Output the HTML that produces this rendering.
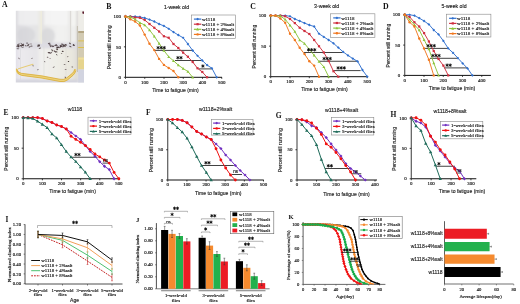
<!DOCTYPE html>
<html><head><meta charset="utf-8"><style>
html,body{margin:0;padding:0;background:#fff;width:520px;height:304px;overflow:hidden;}
svg{display:block;filter:blur(0.3px);}
text{white-space:pre;opacity:0.999;}
</style></head><body>
<svg width="520" height="304" viewBox="0 0 520 304">
<rect width="520" height="304" fill="#fff"/>
<text x="2.10" y="7.20" font-family='"Liberation Serif", serif' font-size="7.8" text-anchor="start" fill="#111" font-weight="bold">A</text>
<defs><filter id="bl" x="-10%" y="-10%" width="120%" height="120%"><feGaussianBlur stdDeviation="1.1"/></filter><filter id="bl2" x="-20%" y="-20%" width="140%" height="140%"><feGaussianBlur stdDeviation="0.45"/></filter><clipPath id="phc"><rect x="15.8" y="10.8" width="68.2" height="71.6"/></clipPath><linearGradient id="p1" x1="0" x2="1" y1="0" y2="0"><stop offset="0" stop-color="#e2e2e4"/><stop offset="0.15" stop-color="#dcdbdf"/><stop offset="0.55" stop-color="#e6e6e8"/><stop offset="0.85" stop-color="#e4e4e5"/><stop offset="0.96" stop-color="#f0efe6"/><stop offset="1" stop-color="#e8e6dc"/></linearGradient><linearGradient id="p2" x1="0" x2="1" y1="0" y2="0"><stop offset="0" stop-color="#e2e1e1"/><stop offset="0.3" stop-color="#ececec"/><stop offset="0.6" stop-color="#f2f2f1"/><stop offset="0.9" stop-color="#f0f0ef"/><stop offset="1" stop-color="#e4e3e1"/></linearGradient><linearGradient id="p3" x1="0" x2="0" y1="0" y2="1"><stop offset="0" stop-color="#efeeea"/><stop offset="0.26" stop-color="#eae8e0"/><stop offset="0.3" stop-color="#c8bd98"/><stop offset="0.34" stop-color="#d8d0b6"/><stop offset="0.49" stop-color="#dcd4ba"/><stop offset="0.515" stop-color="#dcbc50"/><stop offset="0.54" stop-color="#dcd4ba"/><stop offset="0.6" stop-color="#e4d8a8"/><stop offset="0.63" stop-color="#eedc90"/><stop offset="0.77" stop-color="#dcc474"/><stop offset="0.8" stop-color="#d6d6e2"/><stop offset="1" stop-color="#d2d2de"/></linearGradient><linearGradient id="p4" x1="0" x2="1" y1="0" y2="0"><stop offset="0" stop-color="#dedde6"/><stop offset="0.1" stop-color="#eceaee"/><stop offset="0.35" stop-color="#e6e5e8"/><stop offset="0.42" stop-color="#f1f0ee"/><stop offset="0.7" stop-color="#eeede6"/><stop offset="0.9" stop-color="#e9e7de"/><stop offset="1" stop-color="#dddbd6"/></linearGradient></defs>
<g clip-path="url(#phc)">
<g filter="url(#bl)">
<rect x="14.00" y="9.00" width="72.00" height="76.00" fill="#e4e3e4" stroke="none" stroke-width="0.6"/>
<rect x="14.00" y="9.00" width="27.50" height="35.50" fill="url(#p1)" stroke="none" stroke-width="0.6"/>
<rect x="41.50" y="9.00" width="29.00" height="35.50" fill="url(#p2)" stroke="none" stroke-width="0.6"/>
<rect x="70.50" y="9.00" width="8.00" height="35.50" fill="#efefed" stroke="none" stroke-width="0.6"/>
<rect x="18.00" y="9.00" width="20.00" height="16.00" fill="#f0f0f1" stroke="none" stroke-width="0.6" opacity="0.8"/>
<rect x="44.00" y="9.00" width="24.00" height="16.00" fill="#f5f5f4" stroke="none" stroke-width="0.6" opacity="0.85"/>
<rect x="71.00" y="9.00" width="6.00" height="17.00" fill="#f5f5f3" stroke="none" stroke-width="0.6" opacity="0.8"/>
<ellipse cx="26" cy="35" rx="9" ry="8" fill="#d4d4d8" opacity="0.7"/>
<ellipse cx="48" cy="36" rx="7" ry="8" fill="#d6d6d8" opacity="0.75"/>
<rect x="76.50" y="9.00" width="1.60" height="35.50" fill="#d4d2ce" stroke="none" stroke-width="0.6"/>
<rect x="14.00" y="43.00" width="64.00" height="37.00" fill="url(#p4)" stroke="none" stroke-width="0.6"/>
<rect x="14.00" y="42.50" width="64.00" height="6.00" fill="#dddce2" stroke="none" stroke-width="0.6"/>
<rect x="14.00" y="79.50" width="64.00" height="5.00" fill="#d4d4de" stroke="none" stroke-width="0.6"/>
</g>
<g filter="url(#bl2)">
<rect x="78.20" y="9.00" width="8.00" height="23.00" fill="#eeede8" stroke="none" stroke-width="0.6"/>
<rect x="78.20" y="31.00" width="8.00" height="2.20" fill="#b4a684" stroke="none" stroke-width="0.6"/>
<rect x="78.20" y="33.00" width="8.00" height="25.00" fill="#d3cbb3" stroke="none" stroke-width="0.6"/>
<rect x="78.20" y="40.40" width="8.00" height="1.00" fill="#dcc050" stroke="none" stroke-width="0.6"/>
<rect x="78.20" y="47.00" width="8.00" height="1.00" fill="#dcc050" stroke="none" stroke-width="0.6"/>
<rect x="78.20" y="57.60" width="8.00" height="12.00" fill="#e6d48e" stroke="none" stroke-width="0.6"/>
<rect x="78.20" y="57.60" width="8.00" height="2.00" fill="#eede9e" stroke="none" stroke-width="0.6"/>
<rect x="78.20" y="69.40" width="8.00" height="15.00" fill="#d2d4e0" stroke="none" stroke-width="0.6"/>
</g>
<g filter="url(#bl2)">
<line x1="41.20" y1="10.80" x2="41.20" y2="44.00" stroke="#f3f0dc" stroke-width="0.9"/>
<line x1="70.60" y1="10.80" x2="70.60" y2="44.00" stroke="#d2d0cc" stroke-width="0.7"/>
<line x1="77.40" y1="26.00" x2="77.40" y2="72.00" stroke="#bdb8a8" stroke-width="0.8"/>
<line x1="20.50" y1="46.00" x2="20.50" y2="80.00" stroke="#d8d8dc" stroke-width="0.6"/>
<line x1="44.00" y1="46.00" x2="44.00" y2="80.00" stroke="#dcdcd8" stroke-width="0.6"/>
<line x1="66.00" y1="46.00" x2="66.00" y2="80.00" stroke="#dddcd4" stroke-width="0.6"/>
</g>
<g filter="url(#bl2)" fill="#3c2c2e">
<ellipse cx="27.1" cy="43.1" rx="1.2" ry="0.6" transform="rotate(9 27.1 43.1)" opacity="0.62"/>
<ellipse cx="28.5" cy="44.7" rx="1.3" ry="0.6" transform="rotate(-41 28.5 44.7)" opacity="0.67"/>
<ellipse cx="18.6" cy="46.5" rx="0.9" ry="0.7" transform="rotate(46 18.6 46.5)" opacity="0.81"/>
<ellipse cx="31.0" cy="43.9" rx="1.0" ry="0.5" transform="rotate(3 31.0 43.9)" opacity="0.57"/>
<ellipse cx="21.0" cy="45.8" rx="1.2" ry="0.6" transform="rotate(34 21.0 45.8)" opacity="0.76"/>
<ellipse cx="31.5" cy="46.1" rx="1.2" ry="0.6" transform="rotate(-4 31.5 46.1)" opacity="0.66"/>
<ellipse cx="39.9" cy="48.3" rx="1.3" ry="0.5" transform="rotate(-27 39.9 48.3)" opacity="0.67"/>
<ellipse cx="18.2" cy="45.7" rx="1.4" ry="0.6" transform="rotate(35 18.2 45.7)" opacity="0.70"/>
<ellipse cx="39.0" cy="45.8" rx="1.0" ry="0.7" transform="rotate(-3 39.0 45.8)" opacity="0.94"/>
<ellipse cx="25.8" cy="45.8" rx="0.9" ry="0.6" transform="rotate(28 25.8 45.8)" opacity="0.66"/>
<ellipse cx="18.5" cy="44.1" rx="1.4" ry="0.5" transform="rotate(-25 18.5 44.1)" opacity="0.59"/>
<ellipse cx="17.9" cy="48.7" rx="1.4" ry="0.5" transform="rotate(6 17.9 48.7)" opacity="0.73"/>
<ellipse cx="21.0" cy="45.7" rx="1.3" ry="0.5" transform="rotate(-8 21.0 45.7)" opacity="0.64"/>
<ellipse cx="22.8" cy="45.1" rx="1.5" ry="0.7" transform="rotate(-20 22.8 45.1)" opacity="0.90"/>
<ellipse cx="21.5" cy="43.8" rx="1.3" ry="0.5" transform="rotate(49 21.5 43.8)" opacity="0.64"/>
<ellipse cx="22.6" cy="47.4" rx="1.4" ry="0.5" transform="rotate(-20 22.6 47.4)" opacity="0.58"/>
<ellipse cx="18.6" cy="45.0" rx="1.3" ry="0.5" transform="rotate(-5 18.6 45.0)" opacity="0.93"/>
<ellipse cx="27.9" cy="45.3" rx="1.2" ry="0.7" transform="rotate(-32 27.9 45.3)" opacity="0.61"/>
<ellipse cx="37.8" cy="46.2" rx="1.0" ry="0.6" transform="rotate(44 37.8 46.2)" opacity="0.63"/>
<ellipse cx="38.8" cy="44.9" rx="1.4" ry="0.6" transform="rotate(-8 38.8 44.9)" opacity="0.59"/>
<ellipse cx="17.4" cy="46.7" rx="1.3" ry="0.5" transform="rotate(32 17.4 46.7)" opacity="0.79"/>
<ellipse cx="23.4" cy="45.6" rx="1.0" ry="0.6" transform="rotate(-43 23.4 45.6)" opacity="0.64"/>
<ellipse cx="29.6" cy="46.9" rx="1.1" ry="0.7" transform="rotate(-30 29.6 46.9)" opacity="0.56"/>
<ellipse cx="22.8" cy="44.4" rx="1.2" ry="0.5" transform="rotate(-32 22.8 44.4)" opacity="0.70"/>
<ellipse cx="60.7" cy="46.2" rx="1.4" ry="0.7" transform="rotate(16 60.7 46.2)" opacity="0.83"/>
<ellipse cx="61.1" cy="46.2" rx="1.0" ry="0.5" transform="rotate(-48 61.1 46.2)" opacity="0.91"/>
<ellipse cx="64.7" cy="45.6" rx="1.3" ry="0.6" transform="rotate(23 64.7 45.6)" opacity="0.68"/>
<ellipse cx="74.0" cy="45.3" rx="0.9" ry="0.6" transform="rotate(24 74.0 45.3)" opacity="0.91"/>
<ellipse cx="65.8" cy="44.8" rx="1.4" ry="0.5" transform="rotate(19 65.8 44.8)" opacity="0.91"/>
<ellipse cx="70.0" cy="43.4" rx="1.2" ry="0.6" transform="rotate(36 70.0 43.4)" opacity="0.78"/>
<ellipse cx="62.4" cy="44.2" rx="1.3" ry="0.5" transform="rotate(14 62.4 44.2)" opacity="0.95"/>
<ellipse cx="70.3" cy="46.5" rx="1.3" ry="0.5" transform="rotate(24 70.3 46.5)" opacity="0.78"/>
<ellipse cx="56.7" cy="45.7" rx="1.4" ry="0.5" transform="rotate(10 56.7 45.7)" opacity="0.74"/>
<ellipse cx="50.1" cy="45.0" rx="1.3" ry="0.6" transform="rotate(11 50.1 45.0)" opacity="0.92"/>
<ellipse cx="50.9" cy="46.4" rx="1.3" ry="0.5" transform="rotate(-33 50.9 46.4)" opacity="0.91"/>
<ellipse cx="63.5" cy="45.5" rx="1.2" ry="0.7" transform="rotate(-17 63.5 45.5)" opacity="0.82"/>
<ellipse cx="49.2" cy="43.4" rx="1.4" ry="0.7" transform="rotate(-12 49.2 43.4)" opacity="0.78"/>
<ellipse cx="52.8" cy="46.3" rx="1.0" ry="0.6" transform="rotate(34 52.8 46.3)" opacity="0.89"/>
<ellipse cx="65.0" cy="46.3" rx="1.0" ry="0.6" transform="rotate(-22 65.0 46.3)" opacity="0.64"/>
<ellipse cx="55.8" cy="45.1" rx="1.3" ry="0.6" transform="rotate(-18 55.8 45.1)" opacity="0.89"/>
<ellipse cx="73.4" cy="44.9" rx="0.9" ry="0.7" transform="rotate(-46 73.4 44.9)" opacity="0.83"/>
<ellipse cx="60.7" cy="45.5" rx="1.1" ry="0.6" transform="rotate(-48 60.7 45.5)" opacity="0.60"/>
<ellipse cx="53.6" cy="46.2" rx="1.4" ry="0.5" transform="rotate(-36 53.6 46.2)" opacity="0.57"/>
<ellipse cx="57.0" cy="49.3" rx="1.3" ry="0.6" transform="rotate(31 57.0 49.3)" opacity="0.93"/>
<ellipse cx="58.0" cy="47.5" rx="1.2" ry="0.5" transform="rotate(-49 58.0 47.5)" opacity="0.74"/>
<ellipse cx="58.6" cy="47.3" rx="1.1" ry="0.5" transform="rotate(20 58.6 47.3)" opacity="0.76"/>
<ellipse cx="56.7" cy="51.7" rx="1.1" ry="0.6" transform="rotate(41 56.7 51.7)" opacity="0.58"/>
<ellipse cx="62.7" cy="51.4" rx="1.0" ry="0.6" transform="rotate(13 62.7 51.4)" opacity="0.91"/>
<ellipse cx="52.2" cy="50.3" rx="1.4" ry="0.6" transform="rotate(44 52.2 50.3)" opacity="0.74"/>
<ellipse cx="57.4" cy="47.5" rx="1.3" ry="0.7" transform="rotate(14 57.4 47.5)" opacity="0.84"/>
<ellipse cx="49.1" cy="52.7" rx="1.5" ry="0.7" transform="rotate(4 49.1 52.7)" opacity="0.87"/>
<ellipse cx="51.1" cy="52.8" rx="1.4" ry="0.5" transform="rotate(-42 51.1 52.8)" opacity="0.73"/>
<ellipse cx="55.5" cy="51.8" rx="1.2" ry="0.5" transform="rotate(31 55.5 51.8)" opacity="0.58"/>
<ellipse cx="60.2" cy="47.3" rx="1.1" ry="0.6" transform="rotate(-36 60.2 47.3)" opacity="0.61"/>
<ellipse cx="54.8" cy="51.4" rx="1.4" ry="0.6" transform="rotate(45 54.8 51.4)" opacity="0.75"/>
<ellipse cx="63.0" cy="46.6" rx="1.0" ry="0.6" transform="rotate(-21 63.0 46.6)" opacity="0.84"/>
<ellipse cx="53.8" cy="67.1" rx="1.1" ry="0.4" transform="rotate(-19 53.8 67.1)" opacity="0.70"/>
<ellipse cx="65.3" cy="77.3" rx="0.8" ry="0.5" transform="rotate(47 65.3 77.3)" opacity="0.76"/>
<ellipse cx="50.1" cy="58.4" rx="0.9" ry="0.4" transform="rotate(11 50.1 58.4)" opacity="0.56"/>
<ellipse cx="72.3" cy="66.9" rx="0.9" ry="0.5" transform="rotate(6 72.3 66.9)" opacity="0.75"/>
<ellipse cx="56.7" cy="54.8" rx="0.9" ry="0.4" transform="rotate(46 56.7 54.8)" opacity="0.92"/>
<ellipse cx="33.1" cy="65.8" rx="0.7" ry="0.4" transform="rotate(32 33.1 65.8)" opacity="0.91"/>
<ellipse cx="44.7" cy="61.6" rx="0.8" ry="0.5" transform="rotate(43 44.7 61.6)" opacity="0.60"/>
<ellipse cx="61.6" cy="53.6" rx="0.8" ry="0.4" transform="rotate(19 61.6 53.6)" opacity="0.68"/>
<ellipse cx="37.9" cy="69.7" rx="0.7" ry="0.5" transform="rotate(-38 37.9 69.7)" opacity="0.75"/>
<ellipse cx="32.0" cy="58.3" rx="0.9" ry="0.4" transform="rotate(-12 32.0 58.3)" opacity="0.72"/>
<ellipse cx="47.6" cy="57.3" rx="0.8" ry="0.5" transform="rotate(14 47.6 57.3)" opacity="0.76"/>
<ellipse cx="65.7" cy="69.5" rx="1.1" ry="0.4" transform="rotate(24 65.7 69.5)" opacity="0.87"/>
<ellipse cx="68.5" cy="61.5" rx="0.8" ry="0.5" transform="rotate(-28 68.5 61.5)" opacity="0.95"/>
<ellipse cx="67.7" cy="56.6" rx="0.8" ry="0.5" transform="rotate(-24 67.7 56.6)" opacity="0.59"/>
<ellipse cx="64.6" cy="64.4" rx="1.0" ry="0.4" transform="rotate(-10 64.6 64.4)" opacity="0.82"/>
<ellipse cx="19.0" cy="58.4" rx="1.0" ry="0.5" transform="rotate(47 19.0 58.4)" opacity="0.60"/>
</g>
<g filter="url(#bl2)" fill="none" stroke-linecap="round" stroke-linejoin="round">
<path d="M16.6,69.8 Q17.4,73.6 21.5,74.4 L42,77 L60,80.4 Q64,81.3 67,79 L72.6,74.4 Q74.6,72.6 75.2,70.2" stroke="#ecd27a" stroke-width="2.3"/>
<path d="M16.4,69 Q17,72.4 21.3,73.3 L42,75.9 L60,79.3 Q63.8,80.1 66.6,78 L72.2,73.5 Q74.2,71.8 74.8,69.5" stroke="#d8aa30" stroke-width="0.75"/>
<path d="M16.9,70.8 Q17.8,74.6 21.7,75.4 L42,78.1 L60,81.5 Q64.2,82.4 67.4,80 L73,75.3 Q75,73.4 75.6,71" stroke="#d8aa30" stroke-width="0.75"/>
<path d="M18.5,68.8 Q25,66.5 33,64.2" stroke="#e6cc78" stroke-width="1.1"/>
</g>
<ellipse cx="83.2" cy="12.6" rx="0.9" ry="1.3" fill="#5a1a2a"/>
</g>
<text x="106.20" y="8.50" font-family='"Liberation Serif", serif' font-size="7.8" text-anchor="start" fill="#111" font-weight="bold">B</text>
<text x="176.50" y="9.40" font-family='"Liberation Sans", sans-serif' font-size="5.2" text-anchor="middle" fill="#222" font-weight="normal" stroke="#222" stroke-width="0.14">1-week old</text>
<line x1="125.50" y1="14.90" x2="125.50" y2="77.30" stroke="#222" stroke-width="0.9"/>
<line x1="125.50" y1="77.30" x2="222.00" y2="77.30" stroke="#111" stroke-width="1.0"/>
<line x1="123.90" y1="16.40" x2="125.50" y2="16.40" stroke="#111" stroke-width="0.8"/>
<text x="120.90" y="18.10" font-family='"Liberation Serif", serif' font-size="4.9" text-anchor="end" fill="#222" font-weight="normal" stroke="#222" stroke-width="0.16">100</text>
<line x1="123.90" y1="46.85" x2="125.50" y2="46.85" stroke="#111" stroke-width="0.8"/>
<text x="120.90" y="48.55" font-family='"Liberation Serif", serif' font-size="4.9" text-anchor="end" fill="#222" font-weight="normal" stroke="#222" stroke-width="0.16">50</text>
<line x1="123.90" y1="77.30" x2="125.50" y2="77.30" stroke="#111" stroke-width="0.8"/>
<text x="120.90" y="79.00" font-family='"Liberation Serif", serif' font-size="4.9" text-anchor="end" fill="#222" font-weight="normal" stroke="#222" stroke-width="0.16">0</text>
<line x1="125.50" y1="77.30" x2="125.50" y2="78.80" stroke="#111" stroke-width="0.8"/>
<text x="125.50" y="83.80" font-family='"Liberation Serif", serif' font-size="4.9" text-anchor="middle" fill="#222" font-weight="normal" stroke="#222" stroke-width="0.16">0</text>
<line x1="144.75" y1="77.30" x2="144.75" y2="78.80" stroke="#111" stroke-width="0.8"/>
<text x="144.75" y="83.80" font-family='"Liberation Serif", serif' font-size="4.9" text-anchor="middle" fill="#222" font-weight="normal" stroke="#222" stroke-width="0.16">100</text>
<line x1="164.00" y1="77.30" x2="164.00" y2="78.80" stroke="#111" stroke-width="0.8"/>
<text x="164.00" y="83.80" font-family='"Liberation Serif", serif' font-size="4.9" text-anchor="middle" fill="#222" font-weight="normal" stroke="#222" stroke-width="0.16">200</text>
<line x1="183.25" y1="77.30" x2="183.25" y2="78.80" stroke="#111" stroke-width="0.8"/>
<text x="183.25" y="83.80" font-family='"Liberation Serif", serif' font-size="4.9" text-anchor="middle" fill="#222" font-weight="normal" stroke="#222" stroke-width="0.16">300</text>
<line x1="202.50" y1="77.30" x2="202.50" y2="78.80" stroke="#111" stroke-width="0.8"/>
<text x="202.50" y="83.80" font-family='"Liberation Serif", serif' font-size="4.9" text-anchor="middle" fill="#222" font-weight="normal" stroke="#222" stroke-width="0.16">400</text>
<line x1="221.75" y1="77.30" x2="221.75" y2="78.80" stroke="#111" stroke-width="0.8"/>
<text x="221.75" y="83.80" font-family='"Liberation Serif", serif' font-size="4.9" text-anchor="middle" fill="#222" font-weight="normal" stroke="#222" stroke-width="0.16">500</text>
<text x="175.50" y="91.50" font-family='"Liberation Sans", sans-serif' font-size="5.1" text-anchor="middle" fill="#222" font-weight="normal" stroke="#222" stroke-width="0.14">Time to fatigue (min)</text>
<text x="110.70" y="47.35" font-family='"Liberation Sans", sans-serif' font-size="5.0" text-anchor="middle" fill="#222" font-weight="normal" stroke="#222" stroke-width="0.14" transform="rotate(-90 110.7 47.349999999999994)">Percent still running</text>
<line x1="154.75" y1="50.40" x2="192.50" y2="50.40" stroke="#111" stroke-width="0.8"/>
<line x1="175.00" y1="60.50" x2="201.25" y2="60.50" stroke="#111" stroke-width="0.8"/>
<line x1="198.75" y1="68.90" x2="211.90" y2="68.90" stroke="#111" stroke-width="0.8"/>
<polyline points="125.50,16.50 130.30,16.50 135.10,16.50 139.90,17.00 144.70,18.00 149.50,19.60 154.30,21.50 159.10,24.00 163.90,25.90 168.70,28.75 173.50,32.10 178.30,35.00 183.10,37.75 187.90,44.00 192.70,50.50 197.50,55.75 202.30,60.50 207.10,65.10 211.90,68.25 216.70,77.30" fill="none" stroke="#2f6fce" stroke-width="0.95" stroke-linejoin="round"/>
<path d="M125.50,15.12L126.88,16.50L125.50,17.88L124.12,16.50Z" fill="#2f6fce"/>
<path d="M130.30,15.12L131.68,16.50L130.30,17.88L128.93,16.50Z" fill="#2f6fce"/>
<path d="M135.10,15.12L136.47,16.50L135.10,17.88L133.72,16.50Z" fill="#2f6fce"/>
<path d="M139.90,15.62L141.28,17.00L139.90,18.38L138.53,17.00Z" fill="#2f6fce"/>
<path d="M144.70,16.62L146.07,18.00L144.70,19.38L143.32,18.00Z" fill="#2f6fce"/>
<path d="M149.50,18.23L150.88,19.60L149.50,20.98L148.12,19.60Z" fill="#2f6fce"/>
<path d="M154.30,20.12L155.68,21.50L154.30,22.88L152.93,21.50Z" fill="#2f6fce"/>
<path d="M159.10,22.62L160.47,24.00L159.10,25.38L157.72,24.00Z" fill="#2f6fce"/>
<path d="M163.90,24.52L165.28,25.90L163.90,27.27L162.53,25.90Z" fill="#2f6fce"/>
<path d="M168.70,27.38L170.07,28.75L168.70,30.12L167.32,28.75Z" fill="#2f6fce"/>
<path d="M173.50,30.73L174.88,32.10L173.50,33.48L172.12,32.10Z" fill="#2f6fce"/>
<path d="M178.30,33.62L179.68,35.00L178.30,36.38L176.93,35.00Z" fill="#2f6fce"/>
<path d="M183.10,36.38L184.47,37.75L183.10,39.12L181.72,37.75Z" fill="#2f6fce"/>
<path d="M187.90,42.62L189.28,44.00L187.90,45.38L186.53,44.00Z" fill="#2f6fce"/>
<path d="M192.70,49.12L194.07,50.50L192.70,51.88L191.32,50.50Z" fill="#2f6fce"/>
<path d="M197.50,54.38L198.88,55.75L197.50,57.12L196.12,55.75Z" fill="#2f6fce"/>
<path d="M202.30,59.12L203.68,60.50L202.30,61.88L200.93,60.50Z" fill="#2f6fce"/>
<path d="M207.10,63.72L208.47,65.10L207.10,66.47L205.72,65.10Z" fill="#2f6fce"/>
<path d="M211.90,66.88L213.27,68.25L211.90,69.62L210.52,68.25Z" fill="#2f6fce"/>
<path d="M216.70,75.92L218.07,77.30L216.70,78.67L215.32,77.30Z" fill="#2f6fce"/>
<polyline points="125.50,16.50 130.30,16.60 135.10,17.50 139.90,17.75 144.70,20.00 149.50,24.00 154.30,27.75 159.10,31.50 163.90,36.25 168.70,37.75 173.50,44.00 178.30,48.00 183.10,52.60 187.90,56.75 192.70,62.00 197.50,68.25 202.30,72.00 207.10,77.30" fill="none" stroke="#cf2f3f" stroke-width="0.95" stroke-linejoin="round"/>
<rect x="124.40" y="15.40" width="2.20" height="2.20" fill="#cf2f3f"/>
<rect x="129.20" y="15.50" width="2.20" height="2.20" fill="#cf2f3f"/>
<rect x="134.00" y="16.40" width="2.20" height="2.20" fill="#cf2f3f"/>
<rect x="138.80" y="16.65" width="2.20" height="2.20" fill="#cf2f3f"/>
<rect x="143.60" y="18.90" width="2.20" height="2.20" fill="#cf2f3f"/>
<rect x="148.40" y="22.90" width="2.20" height="2.20" fill="#cf2f3f"/>
<rect x="153.20" y="26.65" width="2.20" height="2.20" fill="#cf2f3f"/>
<rect x="158.00" y="30.40" width="2.20" height="2.20" fill="#cf2f3f"/>
<rect x="162.80" y="35.15" width="2.20" height="2.20" fill="#cf2f3f"/>
<rect x="167.60" y="36.65" width="2.20" height="2.20" fill="#cf2f3f"/>
<rect x="172.40" y="42.90" width="2.20" height="2.20" fill="#cf2f3f"/>
<rect x="177.20" y="46.90" width="2.20" height="2.20" fill="#cf2f3f"/>
<rect x="182.00" y="51.50" width="2.20" height="2.20" fill="#cf2f3f"/>
<rect x="186.80" y="55.65" width="2.20" height="2.20" fill="#cf2f3f"/>
<rect x="191.60" y="60.90" width="2.20" height="2.20" fill="#cf2f3f"/>
<rect x="196.40" y="67.15" width="2.20" height="2.20" fill="#cf2f3f"/>
<rect x="201.20" y="70.90" width="2.20" height="2.20" fill="#cf2f3f"/>
<rect x="206.00" y="76.20" width="2.20" height="2.20" fill="#cf2f3f"/>
<polyline points="125.50,16.50 130.30,17.00 135.10,19.25 139.90,22.75 144.70,25.00 149.50,30.00 154.30,36.25 159.10,43.50 163.90,50.50 168.70,56.75 173.50,60.75 178.30,65.10 183.10,68.50 187.90,71.50 192.70,77.30" fill="none" stroke="#8cc43c" stroke-width="0.95" stroke-linejoin="round"/>
<path d="M125.50,15.07L126.93,17.64L124.07,17.64Z" fill="#8cc43c"/>
<path d="M130.30,15.57L131.73,18.14L128.87,18.14Z" fill="#8cc43c"/>
<path d="M135.10,17.82L136.53,20.39L133.67,20.39Z" fill="#8cc43c"/>
<path d="M139.90,21.32L141.33,23.89L138.47,23.89Z" fill="#8cc43c"/>
<path d="M144.70,23.57L146.13,26.14L143.27,26.14Z" fill="#8cc43c"/>
<path d="M149.50,28.57L150.93,31.14L148.07,31.14Z" fill="#8cc43c"/>
<path d="M154.30,34.82L155.73,37.39L152.87,37.39Z" fill="#8cc43c"/>
<path d="M159.10,42.07L160.53,44.64L157.67,44.64Z" fill="#8cc43c"/>
<path d="M163.90,49.07L165.33,51.64L162.47,51.64Z" fill="#8cc43c"/>
<path d="M168.70,55.32L170.13,57.89L167.27,57.89Z" fill="#8cc43c"/>
<path d="M173.50,59.32L174.93,61.89L172.07,61.89Z" fill="#8cc43c"/>
<path d="M178.30,63.67L179.73,66.24L176.87,66.24Z" fill="#8cc43c"/>
<path d="M183.10,67.07L184.53,69.64L181.67,69.64Z" fill="#8cc43c"/>
<path d="M187.90,70.07L189.33,72.64L186.47,72.64Z" fill="#8cc43c"/>
<path d="M192.70,75.87L194.13,78.44L191.27,78.44Z" fill="#8cc43c"/>
<polyline points="125.50,16.50 130.30,19.25 135.10,21.50 139.90,25.50 144.70,34.60 149.50,43.75 154.30,50.10 159.10,58.90 163.90,64.90 168.70,68.00 173.50,71.00 178.30,77.30" fill="none" stroke="#f07820" stroke-width="0.95" stroke-linejoin="round"/>
<circle cx="125.50" cy="16.50" r="1.21" fill="#f07820"/>
<circle cx="130.30" cy="19.25" r="1.21" fill="#f07820"/>
<circle cx="135.10" cy="21.50" r="1.21" fill="#f07820"/>
<circle cx="139.90" cy="25.50" r="1.21" fill="#f07820"/>
<circle cx="144.70" cy="34.60" r="1.21" fill="#f07820"/>
<circle cx="149.50" cy="43.75" r="1.21" fill="#f07820"/>
<circle cx="154.30" cy="50.10" r="1.21" fill="#f07820"/>
<circle cx="159.10" cy="58.90" r="1.21" fill="#f07820"/>
<circle cx="163.90" cy="64.90" r="1.21" fill="#f07820"/>
<circle cx="168.70" cy="68.00" r="1.21" fill="#f07820"/>
<circle cx="173.50" cy="71.00" r="1.21" fill="#f07820"/>
<circle cx="178.30" cy="77.30" r="1.21" fill="#f07820"/>
<path d="M158.10,46.35L158.10,49.05M156.93,47.03L159.27,48.38M159.27,47.03L156.93,48.38" stroke="#111" stroke-width="0.85" stroke-linecap="round"/><circle cx="158.10" cy="47.70" r="0.75" fill="#111"/>
<path d="M161.20,46.35L161.20,49.05M160.03,47.03L162.37,48.38M162.37,47.03L160.03,48.38" stroke="#111" stroke-width="0.85" stroke-linecap="round"/><circle cx="161.20" cy="47.70" r="0.75" fill="#111"/>
<path d="M164.30,46.35L164.30,49.05M163.13,47.03L165.47,48.38M165.47,47.03L163.13,48.38" stroke="#111" stroke-width="0.85" stroke-linecap="round"/><circle cx="164.30" cy="47.70" r="0.75" fill="#111"/>
<path d="M177.90,56.35L177.90,59.05M176.73,57.03L179.07,58.38M179.07,57.03L176.73,58.38" stroke="#111" stroke-width="0.85" stroke-linecap="round"/><circle cx="177.90" cy="57.70" r="0.75" fill="#111"/>
<path d="M181.00,56.35L181.00,59.05M179.83,57.03L182.17,58.38M182.17,57.03L179.83,58.38" stroke="#111" stroke-width="0.85" stroke-linecap="round"/><circle cx="181.00" cy="57.70" r="0.75" fill="#111"/>
<path d="M202.90,64.75L202.90,67.45M201.73,65.43L204.07,66.78M204.07,65.43L201.73,66.78" stroke="#111" stroke-width="0.85" stroke-linecap="round"/><circle cx="202.90" cy="66.10" r="0.75" fill="#111"/>
<rect x="191.30" y="15.00" width="44.30" height="23.50" fill="#fff" stroke="#888" stroke-width="0.6"/>
<line x1="193.90" y1="19.10" x2="201.30" y2="19.10" stroke="#2f6fce" stroke-width="1.2"/>
<path d="M197.60,17.73L198.98,19.10L197.60,20.48L196.23,19.10Z" fill="#2f6fce"/>
<text x="201.90" y="20.80" font-family='"Liberation Serif", serif' font-size="5.0" text-anchor="start" fill="#1a1a1a" font-weight="normal" stroke="#1a1a1a" stroke-width="0.16">w1118</text>
<line x1="193.90" y1="24.20" x2="201.30" y2="24.20" stroke="#cf2f3f" stroke-width="1.2"/>
<rect x="196.50" y="23.10" width="2.20" height="2.20" fill="#cf2f3f"/>
<text x="201.90" y="25.90" font-family='"Liberation Serif", serif' font-size="5.0" text-anchor="start" fill="#1a1a1a" font-weight="normal" stroke="#1a1a1a" stroke-width="0.16">w1118 + 2%salt</text>
<line x1="193.90" y1="29.30" x2="201.30" y2="29.30" stroke="#8cc43c" stroke-width="1.2"/>
<path d="M197.60,27.87L199.03,30.44L196.17,30.44Z" fill="#8cc43c"/>
<text x="201.90" y="31.00" font-family='"Liberation Serif", serif' font-size="5.0" text-anchor="start" fill="#1a1a1a" font-weight="normal" stroke="#1a1a1a" stroke-width="0.16">w1118 + 4%salt</text>
<line x1="193.90" y1="34.40" x2="201.30" y2="34.40" stroke="#f07820" stroke-width="1.2"/>
<circle cx="197.60" cy="34.40" r="1.21" fill="#f07820"/>
<text x="201.90" y="36.10" font-family='"Liberation Serif", serif' font-size="5.0" text-anchor="start" fill="#1a1a1a" font-weight="normal" stroke="#1a1a1a" stroke-width="0.16">w1118 + 8%salt</text>
<text x="250.20" y="8.60" font-family='"Liberation Serif", serif' font-size="7.8" text-anchor="start" fill="#111" font-weight="bold">C</text>
<text x="326.60" y="7.60" font-family='"Liberation Sans", sans-serif' font-size="5.2" text-anchor="middle" fill="#222" font-weight="normal" stroke="#222" stroke-width="0.14">3-week old</text>
<line x1="270.70" y1="14.10" x2="270.70" y2="76.70" stroke="#222" stroke-width="0.9"/>
<line x1="270.70" y1="76.70" x2="367.00" y2="76.70" stroke="#111" stroke-width="1.0"/>
<line x1="269.10" y1="15.60" x2="270.70" y2="15.60" stroke="#111" stroke-width="0.8"/>
<text x="266.10" y="17.30" font-family='"Liberation Serif", serif' font-size="4.9" text-anchor="end" fill="#222" font-weight="normal" stroke="#222" stroke-width="0.16">100</text>
<line x1="269.10" y1="46.15" x2="270.70" y2="46.15" stroke="#111" stroke-width="0.8"/>
<text x="266.10" y="47.85" font-family='"Liberation Serif", serif' font-size="4.9" text-anchor="end" fill="#222" font-weight="normal" stroke="#222" stroke-width="0.16">50</text>
<line x1="269.10" y1="76.70" x2="270.70" y2="76.70" stroke="#111" stroke-width="0.8"/>
<text x="266.10" y="78.40" font-family='"Liberation Serif", serif' font-size="4.9" text-anchor="end" fill="#222" font-weight="normal" stroke="#222" stroke-width="0.16">0</text>
<line x1="270.70" y1="76.70" x2="270.70" y2="78.20" stroke="#111" stroke-width="0.8"/>
<text x="270.70" y="83.20" font-family='"Liberation Serif", serif' font-size="4.9" text-anchor="middle" fill="#222" font-weight="normal" stroke="#222" stroke-width="0.16">0</text>
<line x1="290.00" y1="76.70" x2="290.00" y2="78.20" stroke="#111" stroke-width="0.8"/>
<text x="290.00" y="83.20" font-family='"Liberation Serif", serif' font-size="4.9" text-anchor="middle" fill="#222" font-weight="normal" stroke="#222" stroke-width="0.16">100</text>
<line x1="309.30" y1="76.70" x2="309.30" y2="78.20" stroke="#111" stroke-width="0.8"/>
<text x="309.30" y="83.20" font-family='"Liberation Serif", serif' font-size="4.9" text-anchor="middle" fill="#222" font-weight="normal" stroke="#222" stroke-width="0.16">200</text>
<line x1="328.60" y1="76.70" x2="328.60" y2="78.20" stroke="#111" stroke-width="0.8"/>
<text x="328.60" y="83.20" font-family='"Liberation Serif", serif' font-size="4.9" text-anchor="middle" fill="#222" font-weight="normal" stroke="#222" stroke-width="0.16">300</text>
<line x1="347.90" y1="76.70" x2="347.90" y2="78.20" stroke="#111" stroke-width="0.8"/>
<text x="347.90" y="83.20" font-family='"Liberation Serif", serif' font-size="4.9" text-anchor="middle" fill="#222" font-weight="normal" stroke="#222" stroke-width="0.16">400</text>
<line x1="367.20" y1="76.70" x2="367.20" y2="78.20" stroke="#111" stroke-width="0.8"/>
<text x="367.20" y="83.20" font-family='"Liberation Serif", serif' font-size="4.9" text-anchor="middle" fill="#222" font-weight="normal" stroke="#222" stroke-width="0.16">500</text>
<text x="324.50" y="90.90" font-family='"Liberation Sans", sans-serif' font-size="5.1" text-anchor="middle" fill="#222" font-weight="normal" stroke="#222" stroke-width="0.14">Time to fatigue (min)</text>
<text x="255.90" y="46.65" font-family='"Liberation Sans", sans-serif' font-size="5.0" text-anchor="middle" fill="#222" font-weight="normal" stroke="#222" stroke-width="0.14" transform="rotate(-90 255.89999999999998 46.65)">Percent still running</text>
<line x1="304.00" y1="52.50" x2="342.50" y2="52.50" stroke="#111" stroke-width="0.8"/>
<line x1="319.00" y1="61.25" x2="357.50" y2="61.25" stroke="#111" stroke-width="0.8"/>
<line x1="333.75" y1="70.60" x2="360.60" y2="70.60" stroke="#111" stroke-width="0.8"/>
<polyline points="270.70,15.60 275.53,15.60 280.36,15.60 285.19,15.60 290.02,16.25 294.85,19.00 299.68,21.00 304.51,23.10 309.34,25.00 314.17,26.50 319.00,33.75 323.83,36.90 328.66,40.00 333.49,43.30 338.32,47.60 343.15,51.90 347.98,55.40 352.81,58.60 357.64,61.40 362.47,70.00 367.30,76.70" fill="none" stroke="#2f6fce" stroke-width="0.95" stroke-linejoin="round"/>
<path d="M270.70,14.22L272.07,15.60L270.70,16.98L269.32,15.60Z" fill="#2f6fce"/>
<path d="M275.53,14.22L276.90,15.60L275.53,16.98L274.15,15.60Z" fill="#2f6fce"/>
<path d="M280.36,14.22L281.74,15.60L280.36,16.98L278.99,15.60Z" fill="#2f6fce"/>
<path d="M285.19,14.22L286.56,15.60L285.19,16.98L283.81,15.60Z" fill="#2f6fce"/>
<path d="M290.02,14.88L291.39,16.25L290.02,17.62L288.64,16.25Z" fill="#2f6fce"/>
<path d="M294.85,17.62L296.22,19.00L294.85,20.38L293.47,19.00Z" fill="#2f6fce"/>
<path d="M299.68,19.62L301.06,21.00L299.68,22.38L298.31,21.00Z" fill="#2f6fce"/>
<path d="M304.51,21.73L305.88,23.10L304.51,24.48L303.13,23.10Z" fill="#2f6fce"/>
<path d="M309.34,23.62L310.71,25.00L309.34,26.38L307.96,25.00Z" fill="#2f6fce"/>
<path d="M314.17,25.12L315.54,26.50L314.17,27.88L312.79,26.50Z" fill="#2f6fce"/>
<path d="M319.00,32.38L320.38,33.75L319.00,35.12L317.62,33.75Z" fill="#2f6fce"/>
<path d="M323.83,35.52L325.20,36.90L323.83,38.27L322.45,36.90Z" fill="#2f6fce"/>
<path d="M328.66,38.62L330.03,40.00L328.66,41.38L327.28,40.00Z" fill="#2f6fce"/>
<path d="M333.49,41.92L334.87,43.30L333.49,44.67L332.12,43.30Z" fill="#2f6fce"/>
<path d="M338.32,46.23L339.69,47.60L338.32,48.98L336.94,47.60Z" fill="#2f6fce"/>
<path d="M343.15,50.52L344.52,51.90L343.15,53.27L341.77,51.90Z" fill="#2f6fce"/>
<path d="M347.98,54.02L349.36,55.40L347.98,56.77L346.61,55.40Z" fill="#2f6fce"/>
<path d="M352.81,57.23L354.19,58.60L352.81,59.98L351.44,58.60Z" fill="#2f6fce"/>
<path d="M357.64,60.02L359.01,61.40L357.64,62.77L356.26,61.40Z" fill="#2f6fce"/>
<path d="M362.47,68.62L363.84,70.00L362.47,71.38L361.09,70.00Z" fill="#2f6fce"/>
<path d="M367.30,75.33L368.67,76.70L367.30,78.08L365.92,76.70Z" fill="#2f6fce"/>
<polyline points="270.70,15.60 275.53,15.60 280.36,15.60 285.19,16.25 290.02,19.00 294.85,23.10 299.68,27.75 304.51,31.00 309.34,34.00 314.17,40.00 319.00,46.25 323.83,52.50 328.66,61.00 333.49,71.25 338.32,76.70" fill="none" stroke="#cf2f3f" stroke-width="0.95" stroke-linejoin="round"/>
<rect x="269.60" y="14.50" width="2.20" height="2.20" fill="#cf2f3f"/>
<rect x="274.43" y="14.50" width="2.20" height="2.20" fill="#cf2f3f"/>
<rect x="279.26" y="14.50" width="2.20" height="2.20" fill="#cf2f3f"/>
<rect x="284.09" y="15.15" width="2.20" height="2.20" fill="#cf2f3f"/>
<rect x="288.92" y="17.90" width="2.20" height="2.20" fill="#cf2f3f"/>
<rect x="293.75" y="22.00" width="2.20" height="2.20" fill="#cf2f3f"/>
<rect x="298.58" y="26.65" width="2.20" height="2.20" fill="#cf2f3f"/>
<rect x="303.41" y="29.90" width="2.20" height="2.20" fill="#cf2f3f"/>
<rect x="308.24" y="32.90" width="2.20" height="2.20" fill="#cf2f3f"/>
<rect x="313.07" y="38.90" width="2.20" height="2.20" fill="#cf2f3f"/>
<rect x="317.90" y="45.15" width="2.20" height="2.20" fill="#cf2f3f"/>
<rect x="322.73" y="51.40" width="2.20" height="2.20" fill="#cf2f3f"/>
<rect x="327.56" y="59.90" width="2.20" height="2.20" fill="#cf2f3f"/>
<rect x="332.39" y="70.15" width="2.20" height="2.20" fill="#cf2f3f"/>
<rect x="337.22" y="75.60" width="2.20" height="2.20" fill="#cf2f3f"/>
<polyline points="270.70,15.60 275.53,15.60 280.36,16.00 285.19,19.40 290.02,25.25 294.85,31.50 299.68,40.00 304.51,43.50 309.34,49.40 314.17,55.25 319.00,61.50 323.83,66.90 328.66,76.70" fill="none" stroke="#8cc43c" stroke-width="0.95" stroke-linejoin="round"/>
<path d="M270.70,14.17L272.13,16.74L269.27,16.74Z" fill="#8cc43c"/>
<path d="M275.53,14.17L276.96,16.74L274.10,16.74Z" fill="#8cc43c"/>
<path d="M280.36,14.57L281.79,17.14L278.93,17.14Z" fill="#8cc43c"/>
<path d="M285.19,17.97L286.62,20.54L283.76,20.54Z" fill="#8cc43c"/>
<path d="M290.02,23.82L291.45,26.39L288.59,26.39Z" fill="#8cc43c"/>
<path d="M294.85,30.07L296.28,32.64L293.42,32.64Z" fill="#8cc43c"/>
<path d="M299.68,38.57L301.11,41.14L298.25,41.14Z" fill="#8cc43c"/>
<path d="M304.51,42.07L305.94,44.64L303.08,44.64Z" fill="#8cc43c"/>
<path d="M309.34,47.97L310.77,50.54L307.91,50.54Z" fill="#8cc43c"/>
<path d="M314.17,53.82L315.60,56.39L312.74,56.39Z" fill="#8cc43c"/>
<path d="M319.00,60.07L320.43,62.64L317.57,62.64Z" fill="#8cc43c"/>
<path d="M323.83,65.47L325.26,68.04L322.40,68.04Z" fill="#8cc43c"/>
<path d="M328.66,75.27L330.09,77.84L327.23,77.84Z" fill="#8cc43c"/>
<polyline points="270.70,15.60 275.53,15.60 280.36,18.50 285.19,22.75 290.02,33.75 294.85,40.00 299.68,47.75 304.51,54.00 309.34,61.25 314.17,65.60 319.00,76.70" fill="none" stroke="#f07820" stroke-width="0.95" stroke-linejoin="round"/>
<circle cx="270.70" cy="15.60" r="1.21" fill="#f07820"/>
<circle cx="275.53" cy="15.60" r="1.21" fill="#f07820"/>
<circle cx="280.36" cy="18.50" r="1.21" fill="#f07820"/>
<circle cx="285.19" cy="22.75" r="1.21" fill="#f07820"/>
<circle cx="290.02" cy="33.75" r="1.21" fill="#f07820"/>
<circle cx="294.85" cy="40.00" r="1.21" fill="#f07820"/>
<circle cx="299.68" cy="47.75" r="1.21" fill="#f07820"/>
<circle cx="304.51" cy="54.00" r="1.21" fill="#f07820"/>
<circle cx="309.34" cy="61.25" r="1.21" fill="#f07820"/>
<circle cx="314.17" cy="65.60" r="1.21" fill="#f07820"/>
<circle cx="319.00" cy="76.70" r="1.21" fill="#f07820"/>
<path d="M308.50,48.45L308.50,51.15M307.33,49.13L309.67,50.48M309.67,49.13L307.33,50.48" stroke="#111" stroke-width="0.85" stroke-linecap="round"/><circle cx="308.50" cy="49.80" r="0.75" fill="#111"/>
<path d="M311.60,48.45L311.60,51.15M310.43,49.13L312.77,50.48M312.77,49.13L310.43,50.48" stroke="#111" stroke-width="0.85" stroke-linecap="round"/><circle cx="311.60" cy="49.80" r="0.75" fill="#111"/>
<path d="M314.70,48.45L314.70,51.15M313.53,49.13L315.87,50.48M315.87,49.13L313.53,50.48" stroke="#111" stroke-width="0.85" stroke-linecap="round"/><circle cx="314.70" cy="49.80" r="0.75" fill="#111"/>
<path d="M324.10,57.25L324.10,59.95M322.93,57.93L325.27,59.27M325.27,57.93L322.93,59.27" stroke="#111" stroke-width="0.85" stroke-linecap="round"/><circle cx="324.10" cy="58.60" r="0.75" fill="#111"/>
<path d="M327.20,57.25L327.20,59.95M326.03,57.93L328.37,59.27M328.37,57.93L326.03,59.27" stroke="#111" stroke-width="0.85" stroke-linecap="round"/><circle cx="327.20" cy="58.60" r="0.75" fill="#111"/>
<path d="M330.30,57.25L330.30,59.95M329.13,57.93L331.47,59.27M331.47,57.93L329.13,59.27" stroke="#111" stroke-width="0.85" stroke-linecap="round"/><circle cx="330.30" cy="58.60" r="0.75" fill="#111"/>
<path d="M338.10,66.55L338.10,69.25M336.93,67.23L339.27,68.58M339.27,67.23L336.93,68.58" stroke="#111" stroke-width="0.85" stroke-linecap="round"/><circle cx="338.10" cy="67.90" r="0.75" fill="#111"/>
<path d="M341.20,66.55L341.20,69.25M340.03,67.23L342.37,68.58M342.37,67.23L340.03,68.58" stroke="#111" stroke-width="0.85" stroke-linecap="round"/><circle cx="341.20" cy="67.90" r="0.75" fill="#111"/>
<path d="M344.30,66.55L344.30,69.25M343.13,67.23L345.47,68.58M345.47,67.23L343.13,68.58" stroke="#111" stroke-width="0.85" stroke-linecap="round"/><circle cx="344.30" cy="67.90" r="0.75" fill="#111"/>
<rect x="330.60" y="13.80" width="44.30" height="23.50" fill="#fff" stroke="#888" stroke-width="0.6"/>
<line x1="333.20" y1="17.90" x2="340.60" y2="17.90" stroke="#2f6fce" stroke-width="1.2"/>
<path d="M336.90,16.52L338.28,17.90L336.90,19.27L335.53,17.90Z" fill="#2f6fce"/>
<text x="341.20" y="19.60" font-family='"Liberation Serif", serif' font-size="5.0" text-anchor="start" fill="#1a1a1a" font-weight="normal" stroke="#1a1a1a" stroke-width="0.16">w1118</text>
<line x1="333.20" y1="23.00" x2="340.60" y2="23.00" stroke="#cf2f3f" stroke-width="1.2"/>
<rect x="335.80" y="21.90" width="2.20" height="2.20" fill="#cf2f3f"/>
<text x="341.20" y="24.70" font-family='"Liberation Serif", serif' font-size="5.0" text-anchor="start" fill="#1a1a1a" font-weight="normal" stroke="#1a1a1a" stroke-width="0.16">w1118 + 2%salt</text>
<line x1="333.20" y1="28.10" x2="340.60" y2="28.10" stroke="#8cc43c" stroke-width="1.2"/>
<path d="M336.90,26.67L338.33,29.24L335.47,29.24Z" fill="#8cc43c"/>
<text x="341.20" y="29.80" font-family='"Liberation Serif", serif' font-size="5.0" text-anchor="start" fill="#1a1a1a" font-weight="normal" stroke="#1a1a1a" stroke-width="0.16">w1118 + 4%salt</text>
<line x1="333.20" y1="33.20" x2="340.60" y2="33.20" stroke="#f07820" stroke-width="1.2"/>
<circle cx="336.90" cy="33.20" r="1.21" fill="#f07820"/>
<text x="341.20" y="34.90" font-family='"Liberation Serif", serif' font-size="5.0" text-anchor="start" fill="#1a1a1a" font-weight="normal" stroke="#1a1a1a" stroke-width="0.16">w1118 + 8%salt</text>
<text x="383.00" y="8.60" font-family='"Liberation Serif", serif' font-size="7.8" text-anchor="start" fill="#111" font-weight="bold">D</text>
<text x="454.00" y="7.60" font-family='"Liberation Sans", sans-serif' font-size="5.2" text-anchor="middle" fill="#222" font-weight="normal" stroke="#222" stroke-width="0.14">5-week old</text>
<line x1="404.75" y1="13.25" x2="404.75" y2="75.40" stroke="#222" stroke-width="0.9"/>
<line x1="404.75" y1="75.40" x2="490.90" y2="75.40" stroke="#111" stroke-width="1.0"/>
<line x1="403.15" y1="14.75" x2="404.75" y2="14.75" stroke="#111" stroke-width="0.8"/>
<text x="400.15" y="16.45" font-family='"Liberation Serif", serif' font-size="4.9" text-anchor="end" fill="#222" font-weight="normal" stroke="#222" stroke-width="0.16">100</text>
<line x1="403.15" y1="45.08" x2="404.75" y2="45.08" stroke="#111" stroke-width="0.8"/>
<text x="400.15" y="46.78" font-family='"Liberation Serif", serif' font-size="4.9" text-anchor="end" fill="#222" font-weight="normal" stroke="#222" stroke-width="0.16">50</text>
<line x1="403.15" y1="75.40" x2="404.75" y2="75.40" stroke="#111" stroke-width="0.8"/>
<text x="400.15" y="77.10" font-family='"Liberation Serif", serif' font-size="4.9" text-anchor="end" fill="#222" font-weight="normal" stroke="#222" stroke-width="0.16">0</text>
<line x1="404.75" y1="75.40" x2="404.75" y2="76.90" stroke="#111" stroke-width="0.8"/>
<text x="404.75" y="81.90" font-family='"Liberation Serif", serif' font-size="4.9" text-anchor="middle" fill="#222" font-weight="normal" stroke="#222" stroke-width="0.16">0</text>
<line x1="424.00" y1="75.40" x2="424.00" y2="76.90" stroke="#111" stroke-width="0.8"/>
<text x="424.00" y="81.90" font-family='"Liberation Serif", serif' font-size="4.9" text-anchor="middle" fill="#222" font-weight="normal" stroke="#222" stroke-width="0.16">100</text>
<line x1="443.25" y1="75.40" x2="443.25" y2="76.90" stroke="#111" stroke-width="0.8"/>
<text x="443.25" y="81.90" font-family='"Liberation Serif", serif' font-size="4.9" text-anchor="middle" fill="#222" font-weight="normal" stroke="#222" stroke-width="0.16">200</text>
<line x1="462.50" y1="75.40" x2="462.50" y2="76.90" stroke="#111" stroke-width="0.8"/>
<text x="462.50" y="81.90" font-family='"Liberation Serif", serif' font-size="4.9" text-anchor="middle" fill="#222" font-weight="normal" stroke="#222" stroke-width="0.16">300</text>
<line x1="481.75" y1="75.40" x2="481.75" y2="76.90" stroke="#111" stroke-width="0.8"/>
<text x="481.75" y="81.90" font-family='"Liberation Serif", serif' font-size="4.9" text-anchor="middle" fill="#222" font-weight="normal" stroke="#222" stroke-width="0.16">400</text>
<text x="452.00" y="89.60" font-family='"Liberation Sans", sans-serif' font-size="5.1" text-anchor="middle" fill="#222" font-weight="normal" stroke="#222" stroke-width="0.14">Time to fatigue (min)</text>
<text x="389.95" y="45.58" font-family='"Liberation Sans", sans-serif' font-size="5.0" text-anchor="middle" fill="#222" font-weight="normal" stroke="#222" stroke-width="0.14" transform="rotate(-90 389.95 45.575)">Percent still running</text>
<line x1="425.00" y1="48.40" x2="448.00" y2="48.40" stroke="#111" stroke-width="0.8"/>
<line x1="430.00" y1="58.30" x2="457.30" y2="58.30" stroke="#111" stroke-width="0.8"/>
<line x1="444.20" y1="67.90" x2="467.60" y2="67.90" stroke="#111" stroke-width="0.8"/>
<polyline points="404.75,14.75 409.58,14.75 414.41,15.60 419.24,18.10 424.07,21.00 428.90,24.40 433.73,30.00 438.56,34.40 443.39,40.90 448.22,48.40 453.05,52.90 457.88,58.10 462.71,63.40 467.54,68.40 472.37,75.40" fill="none" stroke="#2f6fce" stroke-width="0.95" stroke-linejoin="round"/>
<path d="M404.75,13.38L406.12,14.75L404.75,16.12L403.38,14.75Z" fill="#2f6fce"/>
<path d="M409.58,13.38L410.95,14.75L409.58,16.12L408.20,14.75Z" fill="#2f6fce"/>
<path d="M414.41,14.22L415.79,15.60L414.41,16.98L413.04,15.60Z" fill="#2f6fce"/>
<path d="M419.24,16.73L420.62,18.10L419.24,19.48L417.87,18.10Z" fill="#2f6fce"/>
<path d="M424.07,19.62L425.44,21.00L424.07,22.38L422.69,21.00Z" fill="#2f6fce"/>
<path d="M428.90,23.02L430.27,24.40L428.90,25.77L427.52,24.40Z" fill="#2f6fce"/>
<path d="M433.73,28.62L435.11,30.00L433.73,31.38L432.36,30.00Z" fill="#2f6fce"/>
<path d="M438.56,33.02L439.94,34.40L438.56,35.77L437.19,34.40Z" fill="#2f6fce"/>
<path d="M443.39,39.52L444.76,40.90L443.39,42.27L442.01,40.90Z" fill="#2f6fce"/>
<path d="M448.22,47.02L449.60,48.40L448.22,49.77L446.85,48.40Z" fill="#2f6fce"/>
<path d="M453.05,51.52L454.43,52.90L453.05,54.27L451.68,52.90Z" fill="#2f6fce"/>
<path d="M457.88,56.73L459.25,58.10L457.88,59.48L456.50,58.10Z" fill="#2f6fce"/>
<path d="M462.71,62.02L464.08,63.40L462.71,64.78L461.33,63.40Z" fill="#2f6fce"/>
<path d="M467.54,67.03L468.92,68.40L467.54,69.78L466.17,68.40Z" fill="#2f6fce"/>
<path d="M472.37,74.03L473.75,75.40L472.37,76.78L471.00,75.40Z" fill="#2f6fce"/>
<polyline points="404.75,14.75 409.58,16.90 414.41,22.25 419.24,26.50 424.07,33.10 428.90,41.50 433.73,51.00 438.56,59.00 443.39,65.60 448.22,75.40" fill="none" stroke="#cf2f3f" stroke-width="0.95" stroke-linejoin="round"/>
<rect x="403.65" y="13.65" width="2.20" height="2.20" fill="#cf2f3f"/>
<rect x="408.48" y="15.80" width="2.20" height="2.20" fill="#cf2f3f"/>
<rect x="413.31" y="21.15" width="2.20" height="2.20" fill="#cf2f3f"/>
<rect x="418.14" y="25.40" width="2.20" height="2.20" fill="#cf2f3f"/>
<rect x="422.97" y="32.00" width="2.20" height="2.20" fill="#cf2f3f"/>
<rect x="427.80" y="40.40" width="2.20" height="2.20" fill="#cf2f3f"/>
<rect x="432.63" y="49.90" width="2.20" height="2.20" fill="#cf2f3f"/>
<rect x="437.46" y="57.90" width="2.20" height="2.20" fill="#cf2f3f"/>
<rect x="442.29" y="64.50" width="2.20" height="2.20" fill="#cf2f3f"/>
<rect x="447.12" y="74.30" width="2.20" height="2.20" fill="#cf2f3f"/>
<polyline points="404.75,14.75 409.58,19.40 414.41,24.75 419.24,30.00 424.07,39.75 428.90,49.00 433.73,63.00 438.56,75.40" fill="none" stroke="#8cc43c" stroke-width="0.95" stroke-linejoin="round"/>
<path d="M404.75,13.32L406.18,15.89L403.32,15.89Z" fill="#8cc43c"/>
<path d="M409.58,17.97L411.01,20.54L408.15,20.54Z" fill="#8cc43c"/>
<path d="M414.41,23.32L415.84,25.89L412.98,25.89Z" fill="#8cc43c"/>
<path d="M419.24,28.57L420.67,31.14L417.81,31.14Z" fill="#8cc43c"/>
<path d="M424.07,38.32L425.50,40.89L422.64,40.89Z" fill="#8cc43c"/>
<path d="M428.90,47.57L430.33,50.14L427.47,50.14Z" fill="#8cc43c"/>
<path d="M433.73,61.57L435.16,64.14L432.30,64.14Z" fill="#8cc43c"/>
<path d="M438.56,73.97L439.99,76.54L437.13,76.54Z" fill="#8cc43c"/>
<polyline points="404.75,14.75 409.58,22.25 414.41,26.50 419.24,38.50 424.07,48.50 428.90,59.75 433.73,75.40" fill="none" stroke="#f07820" stroke-width="0.95" stroke-linejoin="round"/>
<circle cx="404.75" cy="14.75" r="1.21" fill="#f07820"/>
<circle cx="409.58" cy="22.25" r="1.21" fill="#f07820"/>
<circle cx="414.41" cy="26.50" r="1.21" fill="#f07820"/>
<circle cx="419.24" cy="38.50" r="1.21" fill="#f07820"/>
<circle cx="424.07" cy="48.50" r="1.21" fill="#f07820"/>
<circle cx="428.90" cy="59.75" r="1.21" fill="#f07820"/>
<circle cx="433.73" cy="75.40" r="1.21" fill="#f07820"/>
<path d="M428.10,44.35L428.10,47.05M426.93,45.03L429.27,46.38M429.27,45.03L426.93,46.38" stroke="#111" stroke-width="0.85" stroke-linecap="round"/><circle cx="428.10" cy="45.70" r="0.75" fill="#111"/>
<path d="M431.20,44.35L431.20,47.05M430.03,45.03L432.37,46.38M432.37,45.03L430.03,46.38" stroke="#111" stroke-width="0.85" stroke-linecap="round"/><circle cx="431.20" cy="45.70" r="0.75" fill="#111"/>
<path d="M434.30,44.35L434.30,47.05M433.13,45.03L435.47,46.38M435.47,45.03L433.13,46.38" stroke="#111" stroke-width="0.85" stroke-linecap="round"/><circle cx="434.30" cy="45.70" r="0.75" fill="#111"/>
<path d="M432.90,54.25L432.90,56.95M431.73,54.93L434.07,56.27M434.07,54.93L431.73,56.27" stroke="#111" stroke-width="0.85" stroke-linecap="round"/><circle cx="432.90" cy="55.60" r="0.75" fill="#111"/>
<path d="M436.00,54.25L436.00,56.95M434.83,54.93L437.17,56.27M437.17,54.93L434.83,56.27" stroke="#111" stroke-width="0.85" stroke-linecap="round"/><circle cx="436.00" cy="55.60" r="0.75" fill="#111"/>
<path d="M439.10,54.25L439.10,56.95M437.93,54.93L440.27,56.27M440.27,54.93L437.93,56.27" stroke="#111" stroke-width="0.85" stroke-linecap="round"/><circle cx="439.10" cy="55.60" r="0.75" fill="#111"/>
<path d="M447.10,63.85L447.10,66.55M445.93,64.53L448.27,65.88M448.27,64.53L445.93,65.88" stroke="#111" stroke-width="0.85" stroke-linecap="round"/><circle cx="447.10" cy="65.20" r="0.75" fill="#111"/>
<path d="M450.20,63.85L450.20,66.55M449.03,64.53L451.37,65.88M451.37,64.53L449.03,65.88" stroke="#111" stroke-width="0.85" stroke-linecap="round"/><circle cx="450.20" cy="65.20" r="0.75" fill="#111"/>
<rect x="446.50" y="14.20" width="44.40" height="22.80" fill="#fff" stroke="#888" stroke-width="0.6"/>
<line x1="449.10" y1="18.30" x2="456.50" y2="18.30" stroke="#2f6fce" stroke-width="1.2"/>
<path d="M452.80,16.92L454.18,18.30L452.80,19.67L451.43,18.30Z" fill="#2f6fce"/>
<text x="457.10" y="20.00" font-family='"Liberation Serif", serif' font-size="5.0" text-anchor="start" fill="#1a1a1a" font-weight="normal" stroke="#1a1a1a" stroke-width="0.16">w1118</text>
<line x1="449.10" y1="23.40" x2="456.50" y2="23.40" stroke="#cf2f3f" stroke-width="1.2"/>
<rect x="451.70" y="22.30" width="2.20" height="2.20" fill="#cf2f3f"/>
<text x="457.10" y="25.10" font-family='"Liberation Serif", serif' font-size="5.0" text-anchor="start" fill="#1a1a1a" font-weight="normal" stroke="#1a1a1a" stroke-width="0.16">w1118 + 2%salt</text>
<line x1="449.10" y1="28.50" x2="456.50" y2="28.50" stroke="#8cc43c" stroke-width="1.2"/>
<path d="M452.80,27.07L454.23,29.64L451.37,29.64Z" fill="#8cc43c"/>
<text x="457.10" y="30.20" font-family='"Liberation Serif", serif' font-size="5.0" text-anchor="start" fill="#1a1a1a" font-weight="normal" stroke="#1a1a1a" stroke-width="0.16">w1118 + 4%salt</text>
<line x1="449.10" y1="33.60" x2="456.50" y2="33.60" stroke="#f07820" stroke-width="1.2"/>
<circle cx="452.80" cy="33.60" r="1.21" fill="#f07820"/>
<text x="457.10" y="35.30" font-family='"Liberation Serif", serif' font-size="5.0" text-anchor="start" fill="#1a1a1a" font-weight="normal" stroke="#1a1a1a" stroke-width="0.16">w1118 + 8%salt</text>
<text x="3.40" y="114.60" font-family='"Liberation Serif", serif' font-size="7.5" text-anchor="start" fill="#111" font-weight="bold">E</text>
<text x="75.00" y="110.60" font-family='"Liberation Sans", sans-serif' font-size="5.2" text-anchor="middle" fill="#222" font-weight="normal" stroke="#222" stroke-width="0.14">w1118</text>
<line x1="23.25" y1="116.10" x2="23.25" y2="178.75" stroke="#222" stroke-width="0.9"/>
<line x1="23.25" y1="178.75" x2="119.50" y2="178.75" stroke="#111" stroke-width="1.0"/>
<line x1="21.65" y1="117.60" x2="23.25" y2="117.60" stroke="#111" stroke-width="0.8"/>
<text x="18.65" y="119.30" font-family='"Liberation Serif", serif' font-size="4.9" text-anchor="end" fill="#222" font-weight="normal" stroke="#222" stroke-width="0.16">100</text>
<line x1="21.65" y1="148.18" x2="23.25" y2="148.18" stroke="#111" stroke-width="0.8"/>
<text x="18.65" y="149.88" font-family='"Liberation Serif", serif' font-size="4.9" text-anchor="end" fill="#222" font-weight="normal" stroke="#222" stroke-width="0.16">50</text>
<line x1="21.65" y1="178.75" x2="23.25" y2="178.75" stroke="#111" stroke-width="0.8"/>
<text x="18.65" y="180.45" font-family='"Liberation Serif", serif' font-size="4.9" text-anchor="end" fill="#222" font-weight="normal" stroke="#222" stroke-width="0.16">0</text>
<line x1="23.25" y1="178.75" x2="23.25" y2="180.25" stroke="#111" stroke-width="0.8"/>
<text x="23.25" y="185.15" font-family='"Liberation Serif", serif' font-size="4.9" text-anchor="middle" fill="#222" font-weight="normal" stroke="#222" stroke-width="0.16">0</text>
<line x1="42.38" y1="178.75" x2="42.38" y2="180.25" stroke="#111" stroke-width="0.8"/>
<text x="42.38" y="185.15" font-family='"Liberation Serif", serif' font-size="4.9" text-anchor="middle" fill="#222" font-weight="normal" stroke="#222" stroke-width="0.16">100</text>
<line x1="61.51" y1="178.75" x2="61.51" y2="180.25" stroke="#111" stroke-width="0.8"/>
<text x="61.51" y="185.15" font-family='"Liberation Serif", serif' font-size="4.9" text-anchor="middle" fill="#222" font-weight="normal" stroke="#222" stroke-width="0.16">200</text>
<line x1="80.64" y1="178.75" x2="80.64" y2="180.25" stroke="#111" stroke-width="0.8"/>
<text x="80.64" y="185.15" font-family='"Liberation Serif", serif' font-size="4.9" text-anchor="middle" fill="#222" font-weight="normal" stroke="#222" stroke-width="0.16">300</text>
<line x1="99.77" y1="178.75" x2="99.77" y2="180.25" stroke="#111" stroke-width="0.8"/>
<text x="99.77" y="185.15" font-family='"Liberation Serif", serif' font-size="4.9" text-anchor="middle" fill="#222" font-weight="normal" stroke="#222" stroke-width="0.16">400</text>
<line x1="118.90" y1="178.75" x2="118.90" y2="180.25" stroke="#111" stroke-width="0.8"/>
<text x="118.90" y="185.15" font-family='"Liberation Serif", serif' font-size="4.9" text-anchor="middle" fill="#222" font-weight="normal" stroke="#222" stroke-width="0.16">500</text>
<text x="72.60" y="192.75" font-family='"Liberation Sans", sans-serif' font-size="5.1" text-anchor="middle" fill="#222" font-weight="normal" stroke="#222" stroke-width="0.14">Time to fatigue (min)</text>
<text x="8.45" y="148.68" font-family='"Liberation Sans", sans-serif' font-size="5.0" text-anchor="middle" fill="#222" font-weight="normal" stroke="#222" stroke-width="0.14" transform="rotate(-90 8.45 148.675)">Percent still running</text>
<line x1="71.90" y1="157.25" x2="97.50" y2="157.25" stroke="#111" stroke-width="0.8"/>
<line x1="102.50" y1="163.10" x2="110.00" y2="163.10" stroke="#111" stroke-width="0.8"/>
<polyline points="23.25,117.60 28.03,117.60 32.81,117.60 37.59,117.60 42.37,118.50 47.15,121.00 51.93,122.50 56.71,125.00 61.49,126.50 66.27,129.00 71.05,132.50 75.83,136.00 80.61,139.40 85.39,145.60 90.17,151.50 94.95,156.25 99.73,161.70 104.51,166.25 109.29,169.60 114.07,178.75" fill="none" stroke="#7030c0" stroke-width="1.0" stroke-linejoin="round"/>
<path d="M23.25,115.97L24.88,117.60L23.25,119.22L21.62,117.60Z" fill="#7030c0"/>
<path d="M28.03,115.97L29.66,117.60L28.03,119.22L26.41,117.60Z" fill="#7030c0"/>
<path d="M32.81,115.97L34.44,117.60L32.81,119.22L31.19,117.60Z" fill="#7030c0"/>
<path d="M37.59,115.97L39.22,117.60L37.59,119.22L35.97,117.60Z" fill="#7030c0"/>
<path d="M42.37,116.88L44.00,118.50L42.37,120.12L40.75,118.50Z" fill="#7030c0"/>
<path d="M47.15,119.38L48.78,121.00L47.15,122.62L45.53,121.00Z" fill="#7030c0"/>
<path d="M51.93,120.88L53.55,122.50L51.93,124.12L50.30,122.50Z" fill="#7030c0"/>
<path d="M56.71,123.38L58.34,125.00L56.71,126.62L55.09,125.00Z" fill="#7030c0"/>
<path d="M61.49,124.88L63.12,126.50L61.49,128.12L59.87,126.50Z" fill="#7030c0"/>
<path d="M66.27,127.38L67.90,129.00L66.27,130.62L64.65,129.00Z" fill="#7030c0"/>
<path d="M71.05,130.88L72.68,132.50L71.05,134.12L69.43,132.50Z" fill="#7030c0"/>
<path d="M75.83,134.38L77.46,136.00L75.83,137.62L74.21,136.00Z" fill="#7030c0"/>
<path d="M80.61,137.78L82.23,139.40L80.61,141.03L78.98,139.40Z" fill="#7030c0"/>
<path d="M85.39,143.97L87.02,145.60L85.39,147.22L83.77,145.60Z" fill="#7030c0"/>
<path d="M90.17,149.88L91.80,151.50L90.17,153.12L88.55,151.50Z" fill="#7030c0"/>
<path d="M94.95,154.62L96.58,156.25L94.95,157.88L93.33,156.25Z" fill="#7030c0"/>
<path d="M99.73,160.07L101.36,161.70L99.73,163.32L98.11,161.70Z" fill="#7030c0"/>
<path d="M104.51,164.62L106.14,166.25L104.51,167.88L102.89,166.25Z" fill="#7030c0"/>
<path d="M109.29,167.97L110.92,169.60L109.29,171.22L107.67,169.60Z" fill="#7030c0"/>
<path d="M114.07,177.12L115.70,178.75L114.07,180.38L112.45,178.75Z" fill="#7030c0"/>
<polyline points="23.25,117.60 28.03,117.60 32.81,117.60 37.59,117.60 42.37,118.50 47.15,121.00 51.93,122.50 56.71,125.00 61.49,126.50 66.27,129.00 71.05,136.25 75.83,139.40 80.61,142.25 85.39,145.60 90.17,149.50 94.95,154.00 99.73,156.90 104.51,160.00 109.29,163.10 114.07,172.40 118.85,178.75" fill="none" stroke="#f01010" stroke-width="1.0" stroke-linejoin="round"/>
<circle cx="23.25" cy="117.60" r="1.43" fill="#f01010"/>
<circle cx="28.03" cy="117.60" r="1.43" fill="#f01010"/>
<circle cx="32.81" cy="117.60" r="1.43" fill="#f01010"/>
<circle cx="37.59" cy="117.60" r="1.43" fill="#f01010"/>
<circle cx="42.37" cy="118.50" r="1.43" fill="#f01010"/>
<circle cx="47.15" cy="121.00" r="1.43" fill="#f01010"/>
<circle cx="51.93" cy="122.50" r="1.43" fill="#f01010"/>
<circle cx="56.71" cy="125.00" r="1.43" fill="#f01010"/>
<circle cx="61.49" cy="126.50" r="1.43" fill="#f01010"/>
<circle cx="66.27" cy="129.00" r="1.43" fill="#f01010"/>
<circle cx="71.05" cy="136.25" r="1.43" fill="#f01010"/>
<circle cx="75.83" cy="139.40" r="1.43" fill="#f01010"/>
<circle cx="80.61" cy="142.25" r="1.43" fill="#f01010"/>
<circle cx="85.39" cy="145.60" r="1.43" fill="#f01010"/>
<circle cx="90.17" cy="149.50" r="1.43" fill="#f01010"/>
<circle cx="94.95" cy="154.00" r="1.43" fill="#f01010"/>
<circle cx="99.73" cy="156.90" r="1.43" fill="#f01010"/>
<circle cx="104.51" cy="160.00" r="1.43" fill="#f01010"/>
<circle cx="109.29" cy="163.10" r="1.43" fill="#f01010"/>
<circle cx="114.07" cy="172.40" r="1.43" fill="#f01010"/>
<circle cx="118.85" cy="178.75" r="1.43" fill="#f01010"/>
<polyline points="23.25,117.60 28.03,118.00 32.81,118.50 37.59,121.20 42.37,124.30 47.15,127.60 51.93,133.90 56.71,138.00 61.49,144.75 66.27,151.50 71.05,157.00 75.83,161.50 80.61,166.90 85.39,172.25 90.17,178.75" fill="none" stroke="#1f6b5a" stroke-width="1.0" stroke-linejoin="round"/>
<path d="M23.25,115.91L24.94,118.95L21.56,118.95Z" fill="#1f6b5a"/>
<path d="M28.03,116.31L29.72,119.35L26.34,119.35Z" fill="#1f6b5a"/>
<path d="M32.81,116.81L34.50,119.85L31.12,119.85Z" fill="#1f6b5a"/>
<path d="M37.59,119.51L39.28,122.55L35.90,122.55Z" fill="#1f6b5a"/>
<path d="M42.37,122.61L44.06,125.65L40.68,125.65Z" fill="#1f6b5a"/>
<path d="M47.15,125.91L48.84,128.95L45.46,128.95Z" fill="#1f6b5a"/>
<path d="M51.93,132.21L53.62,135.25L50.24,135.25Z" fill="#1f6b5a"/>
<path d="M56.71,136.31L58.40,139.35L55.02,139.35Z" fill="#1f6b5a"/>
<path d="M61.49,143.06L63.18,146.10L59.80,146.10Z" fill="#1f6b5a"/>
<path d="M66.27,149.81L67.96,152.85L64.58,152.85Z" fill="#1f6b5a"/>
<path d="M71.05,155.31L72.74,158.35L69.36,158.35Z" fill="#1f6b5a"/>
<path d="M75.83,159.81L77.52,162.85L74.14,162.85Z" fill="#1f6b5a"/>
<path d="M80.61,165.21L82.30,168.25L78.92,168.25Z" fill="#1f6b5a"/>
<path d="M85.39,170.56L87.08,173.60L83.70,173.60Z" fill="#1f6b5a"/>
<path d="M90.17,177.06L91.86,180.10L88.48,180.10Z" fill="#1f6b5a"/>
<path d="M75.90,153.25L75.90,155.95M74.73,153.92L77.07,155.28M77.07,153.92L74.73,155.28" stroke="#111" stroke-width="0.85" stroke-linecap="round"/><circle cx="75.90" cy="154.60" r="0.75" fill="#111"/>
<path d="M79.00,153.25L79.00,155.95M77.83,153.92L80.17,155.28M80.17,153.92L77.83,155.28" stroke="#111" stroke-width="0.85" stroke-linecap="round"/><circle cx="79.00" cy="154.60" r="0.75" fill="#111"/>
<text x="103.20" y="162.00" font-family='"Liberation Sans", sans-serif' font-size="4.6" text-anchor="start" fill="#111" font-weight="normal" stroke="#111" stroke-width="0.14">ns</text>
<rect x="88.00" y="117.20" width="43.00" height="17.30" fill="#fff" stroke="#888" stroke-width="0.6"/>
<line x1="89.80" y1="120.80" x2="97.00" y2="120.80" stroke="#7030c0" stroke-width="1.2"/>
<path d="M93.40,119.42L94.78,120.80L93.40,122.17L92.03,120.80Z" fill="#7030c0"/>
<text x="98.80" y="122.50" font-family='"Liberation Serif", serif' font-size="5.0" text-anchor="start" fill="#1a1a1a" font-weight="normal" stroke="#1a1a1a" stroke-width="0.16">1-week-old flies</text>
<line x1="89.80" y1="126.10" x2="97.00" y2="126.10" stroke="#f01010" stroke-width="1.2"/>
<circle cx="93.40" cy="126.10" r="1.21" fill="#f01010"/>
<text x="98.80" y="127.80" font-family='"Liberation Serif", serif' font-size="5.0" text-anchor="start" fill="#1a1a1a" font-weight="normal" stroke="#1a1a1a" stroke-width="0.16">3-week-old flies</text>
<line x1="89.80" y1="131.40" x2="97.00" y2="131.40" stroke="#1f6b5a" stroke-width="1.2"/>
<path d="M93.40,129.97L94.83,132.54L91.97,132.54Z" fill="#1f6b5a"/>
<text x="98.80" y="133.10" font-family='"Liberation Serif", serif' font-size="5.0" text-anchor="start" fill="#1a1a1a" font-weight="normal" stroke="#1a1a1a" stroke-width="0.16">5-week-old flies</text>
<text x="146.00" y="114.90" font-family='"Liberation Serif", serif' font-size="7.5" text-anchor="start" fill="#111" font-weight="bold">F</text>
<text x="215.60" y="111.30" font-family='"Liberation Sans", sans-serif' font-size="5.2" text-anchor="middle" fill="#222" font-weight="normal" stroke="#222" stroke-width="0.14">w1118+2%salt</text>
<line x1="167.75" y1="118.00" x2="167.75" y2="180.00" stroke="#222" stroke-width="0.9"/>
<line x1="167.75" y1="180.00" x2="263.75" y2="180.00" stroke="#111" stroke-width="1.0"/>
<line x1="166.15" y1="119.50" x2="167.75" y2="119.50" stroke="#111" stroke-width="0.8"/>
<text x="163.15" y="121.20" font-family='"Liberation Serif", serif' font-size="4.9" text-anchor="end" fill="#222" font-weight="normal" stroke="#222" stroke-width="0.16">100</text>
<line x1="166.15" y1="149.75" x2="167.75" y2="149.75" stroke="#111" stroke-width="0.8"/>
<text x="163.15" y="151.45" font-family='"Liberation Serif", serif' font-size="4.9" text-anchor="end" fill="#222" font-weight="normal" stroke="#222" stroke-width="0.16">50</text>
<line x1="166.15" y1="180.00" x2="167.75" y2="180.00" stroke="#111" stroke-width="0.8"/>
<text x="163.15" y="181.70" font-family='"Liberation Serif", serif' font-size="4.9" text-anchor="end" fill="#222" font-weight="normal" stroke="#222" stroke-width="0.16">0</text>
<line x1="167.75" y1="180.00" x2="167.75" y2="181.50" stroke="#111" stroke-width="0.8"/>
<text x="167.75" y="186.40" font-family='"Liberation Serif", serif' font-size="4.9" text-anchor="middle" fill="#222" font-weight="normal" stroke="#222" stroke-width="0.16">0</text>
<line x1="186.90" y1="180.00" x2="186.90" y2="181.50" stroke="#111" stroke-width="0.8"/>
<text x="186.90" y="186.40" font-family='"Liberation Serif", serif' font-size="4.9" text-anchor="middle" fill="#222" font-weight="normal" stroke="#222" stroke-width="0.16">100</text>
<line x1="206.05" y1="180.00" x2="206.05" y2="181.50" stroke="#111" stroke-width="0.8"/>
<text x="206.05" y="186.40" font-family='"Liberation Serif", serif' font-size="4.9" text-anchor="middle" fill="#222" font-weight="normal" stroke="#222" stroke-width="0.16">200</text>
<line x1="225.20" y1="180.00" x2="225.20" y2="181.50" stroke="#111" stroke-width="0.8"/>
<text x="225.20" y="186.40" font-family='"Liberation Serif", serif' font-size="4.9" text-anchor="middle" fill="#222" font-weight="normal" stroke="#222" stroke-width="0.16">300</text>
<line x1="244.35" y1="180.00" x2="244.35" y2="181.50" stroke="#111" stroke-width="0.8"/>
<text x="244.35" y="186.40" font-family='"Liberation Serif", serif' font-size="4.9" text-anchor="middle" fill="#222" font-weight="normal" stroke="#222" stroke-width="0.16">400</text>
<line x1="263.50" y1="180.00" x2="263.50" y2="181.50" stroke="#111" stroke-width="0.8"/>
<text x="263.50" y="186.40" font-family='"Liberation Serif", serif' font-size="4.9" text-anchor="middle" fill="#222" font-weight="normal" stroke="#222" stroke-width="0.16">500</text>
<text x="218.20" y="195.00" font-family='"Liberation Sans", sans-serif' font-size="5.1" text-anchor="middle" fill="#222" font-weight="normal" stroke="#222" stroke-width="0.14">Time to fatigue (min)</text>
<text x="152.95" y="150.25" font-family='"Liberation Sans", sans-serif' font-size="5.0" text-anchor="middle" fill="#222" font-weight="normal" stroke="#222" stroke-width="0.14" transform="rotate(-90 152.95 150.25)">Percent still running</text>
<line x1="201.25" y1="165.50" x2="233.75" y2="165.50" stroke="#111" stroke-width="0.8"/>
<line x1="232.00" y1="174.50" x2="242.00" y2="174.50" stroke="#111" stroke-width="0.8"/>
<polyline points="167.75,119.50 172.58,119.50 177.41,119.50 182.24,120.40 187.07,122.75 191.90,127.00 196.73,131.50 201.56,134.00 206.39,137.00 211.22,139.50 216.05,144.00 220.88,148.50 225.71,155.00 230.54,160.00 235.37,165.50 240.20,170.50 245.03,175.00 249.86,180.00" fill="none" stroke="#7030c0" stroke-width="1.0" stroke-linejoin="round"/>
<path d="M167.75,117.88L169.38,119.50L167.75,121.12L166.12,119.50Z" fill="#7030c0"/>
<path d="M172.58,117.88L174.21,119.50L172.58,121.12L170.96,119.50Z" fill="#7030c0"/>
<path d="M177.41,117.88L179.03,119.50L177.41,121.12L175.78,119.50Z" fill="#7030c0"/>
<path d="M182.24,118.78L183.87,120.40L182.24,122.03L180.62,120.40Z" fill="#7030c0"/>
<path d="M187.07,121.12L188.69,122.75L187.07,124.38L185.44,122.75Z" fill="#7030c0"/>
<path d="M191.90,125.38L193.53,127.00L191.90,128.62L190.28,127.00Z" fill="#7030c0"/>
<path d="M196.73,129.88L198.35,131.50L196.73,133.12L195.10,131.50Z" fill="#7030c0"/>
<path d="M201.56,132.38L203.19,134.00L201.56,135.62L199.94,134.00Z" fill="#7030c0"/>
<path d="M206.39,135.38L208.01,137.00L206.39,138.62L204.76,137.00Z" fill="#7030c0"/>
<path d="M211.22,137.88L212.84,139.50L211.22,141.12L209.59,139.50Z" fill="#7030c0"/>
<path d="M216.05,142.38L217.68,144.00L216.05,145.62L214.43,144.00Z" fill="#7030c0"/>
<path d="M220.88,146.88L222.50,148.50L220.88,150.12L219.25,148.50Z" fill="#7030c0"/>
<path d="M225.71,153.38L227.34,155.00L225.71,156.62L224.09,155.00Z" fill="#7030c0"/>
<path d="M230.54,158.38L232.16,160.00L230.54,161.62L228.91,160.00Z" fill="#7030c0"/>
<path d="M235.37,163.88L237.00,165.50L235.37,167.12L233.75,165.50Z" fill="#7030c0"/>
<path d="M240.20,168.88L241.82,170.50L240.20,172.12L238.57,170.50Z" fill="#7030c0"/>
<path d="M245.03,173.38L246.66,175.00L245.03,176.62L243.41,175.00Z" fill="#7030c0"/>
<path d="M249.86,178.38L251.49,180.00L249.86,181.62L248.24,180.00Z" fill="#7030c0"/>
<polyline points="167.75,119.50 172.58,119.50 177.41,119.50 182.24,120.40 187.07,122.75 191.90,127.00 196.73,131.50 201.56,134.00 206.39,137.00 211.22,139.50 216.05,148.75 220.88,160.00 225.71,168.00 230.54,175.00 235.37,180.00" fill="none" stroke="#f01010" stroke-width="1.0" stroke-linejoin="round"/>
<circle cx="167.75" cy="119.50" r="1.43" fill="#f01010"/>
<circle cx="172.58" cy="119.50" r="1.43" fill="#f01010"/>
<circle cx="177.41" cy="119.50" r="1.43" fill="#f01010"/>
<circle cx="182.24" cy="120.40" r="1.43" fill="#f01010"/>
<circle cx="187.07" cy="122.75" r="1.43" fill="#f01010"/>
<circle cx="191.90" cy="127.00" r="1.43" fill="#f01010"/>
<circle cx="196.73" cy="131.50" r="1.43" fill="#f01010"/>
<circle cx="201.56" cy="134.00" r="1.43" fill="#f01010"/>
<circle cx="206.39" cy="137.00" r="1.43" fill="#f01010"/>
<circle cx="211.22" cy="139.50" r="1.43" fill="#f01010"/>
<circle cx="216.05" cy="148.75" r="1.43" fill="#f01010"/>
<circle cx="220.88" cy="160.00" r="1.43" fill="#f01010"/>
<circle cx="225.71" cy="168.00" r="1.43" fill="#f01010"/>
<circle cx="230.54" cy="175.00" r="1.43" fill="#f01010"/>
<circle cx="235.37" cy="180.00" r="1.43" fill="#f01010"/>
<polyline points="167.75,119.50 172.58,123.00 177.41,127.60 182.24,132.00 187.07,138.25 191.90,147.00 196.73,156.50 201.56,165.50 206.39,172.50 211.22,180.00" fill="none" stroke="#1f6b5a" stroke-width="1.0" stroke-linejoin="round"/>
<path d="M167.75,117.81L169.44,120.85L166.06,120.85Z" fill="#1f6b5a"/>
<path d="M172.58,121.31L174.27,124.35L170.89,124.35Z" fill="#1f6b5a"/>
<path d="M177.41,125.91L179.10,128.95L175.72,128.95Z" fill="#1f6b5a"/>
<path d="M182.24,130.31L183.93,133.35L180.55,133.35Z" fill="#1f6b5a"/>
<path d="M187.07,136.56L188.76,139.60L185.38,139.60Z" fill="#1f6b5a"/>
<path d="M191.90,145.31L193.59,148.35L190.21,148.35Z" fill="#1f6b5a"/>
<path d="M196.73,154.81L198.42,157.85L195.04,157.85Z" fill="#1f6b5a"/>
<path d="M201.56,163.81L203.25,166.85L199.87,166.85Z" fill="#1f6b5a"/>
<path d="M206.39,170.81L208.08,173.85L204.70,173.85Z" fill="#1f6b5a"/>
<path d="M211.22,178.31L212.91,181.35L209.53,181.35Z" fill="#1f6b5a"/>
<path d="M205.90,161.45L205.90,164.15M204.73,162.12L207.07,163.47M207.07,162.12L204.73,163.47" stroke="#111" stroke-width="0.85" stroke-linecap="round"/><circle cx="205.90" cy="162.80" r="0.75" fill="#111"/>
<path d="M209.00,161.45L209.00,164.15M207.83,162.12L210.17,163.47M210.17,162.12L207.83,163.47" stroke="#111" stroke-width="0.85" stroke-linecap="round"/><circle cx="209.00" cy="162.80" r="0.75" fill="#111"/>
<text x="233.30" y="173.40" font-family='"Liberation Sans", sans-serif' font-size="4.6" text-anchor="start" fill="#111" font-weight="normal" stroke="#111" stroke-width="0.14">ns</text>
<rect x="211.30" y="119.50" width="41.70" height="15.60" fill="#fff" stroke="#888" stroke-width="0.6"/>
<line x1="213.10" y1="123.10" x2="220.30" y2="123.10" stroke="#7030c0" stroke-width="1.2"/>
<path d="M216.70,121.72L218.08,123.10L216.70,124.47L215.33,123.10Z" fill="#7030c0"/>
<text x="222.10" y="124.80" font-family='"Liberation Serif", serif' font-size="5.0" text-anchor="start" fill="#1a1a1a" font-weight="normal" stroke="#1a1a1a" stroke-width="0.16">1-week-old flies</text>
<line x1="213.10" y1="128.40" x2="220.30" y2="128.40" stroke="#f01010" stroke-width="1.2"/>
<circle cx="216.70" cy="128.40" r="1.21" fill="#f01010"/>
<text x="222.10" y="130.10" font-family='"Liberation Serif", serif' font-size="5.0" text-anchor="start" fill="#1a1a1a" font-weight="normal" stroke="#1a1a1a" stroke-width="0.16">3-week-old flies</text>
<line x1="213.10" y1="133.70" x2="220.30" y2="133.70" stroke="#1f6b5a" stroke-width="1.2"/>
<path d="M216.70,132.27L218.13,134.84L215.27,134.84Z" fill="#1f6b5a"/>
<text x="222.10" y="135.40" font-family='"Liberation Serif", serif' font-size="5.0" text-anchor="start" fill="#1a1a1a" font-weight="normal" stroke="#1a1a1a" stroke-width="0.16">5-week-old flies</text>
<text x="275.70" y="117.50" font-family='"Liberation Serif", serif' font-size="7.5" text-anchor="start" fill="#111" font-weight="bold">G</text>
<text x="341.60" y="112.30" font-family='"Liberation Sans", sans-serif' font-size="5.2" text-anchor="middle" fill="#222" font-weight="normal" stroke="#222" stroke-width="0.14">w1118+4%salt</text>
<line x1="297.00" y1="118.00" x2="297.00" y2="180.00" stroke="#222" stroke-width="0.9"/>
<line x1="297.00" y1="180.00" x2="377.00" y2="180.00" stroke="#111" stroke-width="1.0"/>
<line x1="295.40" y1="119.50" x2="297.00" y2="119.50" stroke="#111" stroke-width="0.8"/>
<text x="292.40" y="121.20" font-family='"Liberation Serif", serif' font-size="4.9" text-anchor="end" fill="#222" font-weight="normal" stroke="#222" stroke-width="0.16">100</text>
<line x1="295.40" y1="149.75" x2="297.00" y2="149.75" stroke="#111" stroke-width="0.8"/>
<text x="292.40" y="151.45" font-family='"Liberation Serif", serif' font-size="4.9" text-anchor="end" fill="#222" font-weight="normal" stroke="#222" stroke-width="0.16">50</text>
<line x1="295.40" y1="180.00" x2="297.00" y2="180.00" stroke="#111" stroke-width="0.8"/>
<text x="292.40" y="181.70" font-family='"Liberation Serif", serif' font-size="4.9" text-anchor="end" fill="#222" font-weight="normal" stroke="#222" stroke-width="0.16">0</text>
<line x1="297.00" y1="180.00" x2="297.00" y2="181.50" stroke="#111" stroke-width="0.8"/>
<text x="297.00" y="186.40" font-family='"Liberation Serif", serif' font-size="4.9" text-anchor="middle" fill="#222" font-weight="normal" stroke="#222" stroke-width="0.16">0</text>
<line x1="316.50" y1="180.00" x2="316.50" y2="181.50" stroke="#111" stroke-width="0.8"/>
<text x="316.50" y="186.40" font-family='"Liberation Serif", serif' font-size="4.9" text-anchor="middle" fill="#222" font-weight="normal" stroke="#222" stroke-width="0.16">100</text>
<line x1="336.00" y1="180.00" x2="336.00" y2="181.50" stroke="#111" stroke-width="0.8"/>
<text x="336.00" y="186.40" font-family='"Liberation Serif", serif' font-size="4.9" text-anchor="middle" fill="#222" font-weight="normal" stroke="#222" stroke-width="0.16">200</text>
<line x1="355.50" y1="180.00" x2="355.50" y2="181.50" stroke="#111" stroke-width="0.8"/>
<text x="355.50" y="186.40" font-family='"Liberation Serif", serif' font-size="4.9" text-anchor="middle" fill="#222" font-weight="normal" stroke="#222" stroke-width="0.16">300</text>
<line x1="375.00" y1="180.00" x2="375.00" y2="181.50" stroke="#111" stroke-width="0.8"/>
<text x="375.00" y="186.40" font-family='"Liberation Serif", serif' font-size="4.9" text-anchor="middle" fill="#222" font-weight="normal" stroke="#222" stroke-width="0.16">400</text>
<text x="346.50" y="195.50" font-family='"Liberation Sans", sans-serif' font-size="5.1" text-anchor="middle" fill="#222" font-weight="normal" stroke="#222" stroke-width="0.14">Time to fatigue (min)</text>
<text x="282.20" y="150.25" font-family='"Liberation Sans", sans-serif' font-size="5.0" text-anchor="middle" fill="#222" font-weight="normal" stroke="#222" stroke-width="0.14" transform="rotate(-90 282.2 150.25)">Percent still running</text>
<line x1="325.00" y1="168.50" x2="351.25" y2="168.50" stroke="#111" stroke-width="0.8"/>
<line x1="352.00" y1="173.75" x2="361.25" y2="173.75" stroke="#111" stroke-width="0.8"/>
<polyline points="297.00,119.50 301.88,119.75 306.75,122.00 311.62,125.75 316.50,127.60 321.38,132.60 326.25,137.60 331.12,143.90 336.00,150.00 340.88,156.00 345.75,163.75 350.62,168.50 355.50,172.00 360.38,176.00 365.25,180.00" fill="none" stroke="#7030c0" stroke-width="1.0" stroke-linejoin="round"/>
<path d="M297.00,117.88L298.62,119.50L297.00,121.12L295.38,119.50Z" fill="#7030c0"/>
<path d="M301.88,118.12L303.50,119.75L301.88,121.38L300.25,119.75Z" fill="#7030c0"/>
<path d="M306.75,120.38L308.38,122.00L306.75,123.62L305.12,122.00Z" fill="#7030c0"/>
<path d="M311.62,124.12L313.25,125.75L311.62,127.38L310.00,125.75Z" fill="#7030c0"/>
<path d="M316.50,125.97L318.12,127.60L316.50,129.22L314.88,127.60Z" fill="#7030c0"/>
<path d="M321.38,130.97L323.00,132.60L321.38,134.22L319.75,132.60Z" fill="#7030c0"/>
<path d="M326.25,135.97L327.88,137.60L326.25,139.22L324.62,137.60Z" fill="#7030c0"/>
<path d="M331.12,142.28L332.75,143.90L331.12,145.53L329.50,143.90Z" fill="#7030c0"/>
<path d="M336.00,148.38L337.62,150.00L336.00,151.62L334.38,150.00Z" fill="#7030c0"/>
<path d="M340.88,154.38L342.50,156.00L340.88,157.62L339.25,156.00Z" fill="#7030c0"/>
<path d="M345.75,162.12L347.38,163.75L345.75,165.38L344.12,163.75Z" fill="#7030c0"/>
<path d="M350.62,166.88L352.25,168.50L350.62,170.12L349.00,168.50Z" fill="#7030c0"/>
<path d="M355.50,170.38L357.12,172.00L355.50,173.62L353.88,172.00Z" fill="#7030c0"/>
<path d="M360.38,174.38L362.00,176.00L360.38,177.62L358.75,176.00Z" fill="#7030c0"/>
<path d="M365.25,178.38L366.88,180.00L365.25,181.62L363.62,180.00Z" fill="#7030c0"/>
<polyline points="297.00,119.50 301.88,119.75 306.75,120.75 311.62,123.00 316.50,128.25 321.38,134.50 326.25,143.90 331.12,147.30 336.00,152.50 340.88,158.75 345.75,165.60 350.62,172.00 355.50,180.00" fill="none" stroke="#f01010" stroke-width="1.0" stroke-linejoin="round"/>
<circle cx="297.00" cy="119.50" r="1.43" fill="#f01010"/>
<circle cx="301.88" cy="119.75" r="1.43" fill="#f01010"/>
<circle cx="306.75" cy="120.75" r="1.43" fill="#f01010"/>
<circle cx="311.62" cy="123.00" r="1.43" fill="#f01010"/>
<circle cx="316.50" cy="128.25" r="1.43" fill="#f01010"/>
<circle cx="321.38" cy="134.50" r="1.43" fill="#f01010"/>
<circle cx="326.25" cy="143.90" r="1.43" fill="#f01010"/>
<circle cx="331.12" cy="147.30" r="1.43" fill="#f01010"/>
<circle cx="336.00" cy="152.50" r="1.43" fill="#f01010"/>
<circle cx="340.88" cy="158.75" r="1.43" fill="#f01010"/>
<circle cx="345.75" cy="165.60" r="1.43" fill="#f01010"/>
<circle cx="350.62" cy="172.00" r="1.43" fill="#f01010"/>
<circle cx="355.50" cy="180.00" r="1.43" fill="#f01010"/>
<polyline points="297.00,119.50 301.88,124.50 306.75,130.50 311.62,135.75 316.50,144.60 321.38,159.40 326.25,171.90 331.12,180.00" fill="none" stroke="#1f6b5a" stroke-width="1.0" stroke-linejoin="round"/>
<path d="M297.00,117.81L298.69,120.85L295.31,120.85Z" fill="#1f6b5a"/>
<path d="M301.88,122.81L303.56,125.85L300.19,125.85Z" fill="#1f6b5a"/>
<path d="M306.75,128.81L308.44,131.85L305.06,131.85Z" fill="#1f6b5a"/>
<path d="M311.62,134.06L313.31,137.10L309.94,137.10Z" fill="#1f6b5a"/>
<path d="M316.50,142.91L318.19,145.95L314.81,145.95Z" fill="#1f6b5a"/>
<path d="M321.38,157.71L323.06,160.75L319.69,160.75Z" fill="#1f6b5a"/>
<path d="M326.25,170.21L327.94,173.25L324.56,173.25Z" fill="#1f6b5a"/>
<path d="M331.12,178.31L332.81,181.35L329.44,181.35Z" fill="#1f6b5a"/>
<path d="M328.30,164.45L328.30,167.15M327.13,165.12L329.47,166.47M329.47,165.12L327.13,166.47" stroke="#111" stroke-width="0.85" stroke-linecap="round"/><circle cx="328.30" cy="165.80" r="0.75" fill="#111"/>
<path d="M331.40,164.45L331.40,167.15M330.23,165.12L332.57,166.47M332.57,165.12L330.23,166.47" stroke="#111" stroke-width="0.85" stroke-linecap="round"/><circle cx="331.40" cy="165.80" r="0.75" fill="#111"/>
<text x="353.30" y="172.60" font-family='"Liberation Sans", sans-serif' font-size="4.6" text-anchor="start" fill="#111" font-weight="normal" stroke="#111" stroke-width="0.14">ns</text>
<rect x="331.30" y="117.50" width="42.50" height="17.50" fill="#fff" stroke="#888" stroke-width="0.6"/>
<line x1="333.10" y1="121.10" x2="340.30" y2="121.10" stroke="#7030c0" stroke-width="1.2"/>
<path d="M336.70,119.72L338.07,121.10L336.70,122.47L335.32,121.10Z" fill="#7030c0"/>
<text x="342.10" y="122.80" font-family='"Liberation Serif", serif' font-size="5.0" text-anchor="start" fill="#1a1a1a" font-weight="normal" stroke="#1a1a1a" stroke-width="0.16">1-week-old flies</text>
<line x1="333.10" y1="126.40" x2="340.30" y2="126.40" stroke="#f01010" stroke-width="1.2"/>
<circle cx="336.70" cy="126.40" r="1.21" fill="#f01010"/>
<text x="342.10" y="128.10" font-family='"Liberation Serif", serif' font-size="5.0" text-anchor="start" fill="#1a1a1a" font-weight="normal" stroke="#1a1a1a" stroke-width="0.16">3-week-old flies</text>
<line x1="333.10" y1="131.70" x2="340.30" y2="131.70" stroke="#1f6b5a" stroke-width="1.2"/>
<path d="M336.70,130.27L338.13,132.84L335.27,132.84Z" fill="#1f6b5a"/>
<text x="342.10" y="133.40" font-family='"Liberation Serif", serif' font-size="5.0" text-anchor="start" fill="#1a1a1a" font-weight="normal" stroke="#1a1a1a" stroke-width="0.16">5-week-old flies</text>
<text x="390.50" y="116.50" font-family='"Liberation Serif", serif' font-size="7.5" text-anchor="start" fill="#111" font-weight="bold">H</text>
<text x="450.00" y="112.60" font-family='"Liberation Sans", sans-serif' font-size="5.2" text-anchor="middle" fill="#222" font-weight="normal" stroke="#222" stroke-width="0.14">w1118+8%salt</text>
<line x1="411.25" y1="116.50" x2="411.25" y2="178.75" stroke="#222" stroke-width="0.9"/>
<line x1="411.25" y1="178.75" x2="476.30" y2="178.75" stroke="#111" stroke-width="1.0"/>
<line x1="409.65" y1="118.00" x2="411.25" y2="118.00" stroke="#111" stroke-width="0.8"/>
<text x="406.65" y="119.70" font-family='"Liberation Serif", serif' font-size="4.9" text-anchor="end" fill="#222" font-weight="normal" stroke="#222" stroke-width="0.16">100</text>
<line x1="409.65" y1="148.38" x2="411.25" y2="148.38" stroke="#111" stroke-width="0.8"/>
<text x="406.65" y="150.07" font-family='"Liberation Serif", serif' font-size="4.9" text-anchor="end" fill="#222" font-weight="normal" stroke="#222" stroke-width="0.16">50</text>
<line x1="409.65" y1="178.75" x2="411.25" y2="178.75" stroke="#111" stroke-width="0.8"/>
<text x="406.65" y="180.45" font-family='"Liberation Serif", serif' font-size="4.9" text-anchor="end" fill="#222" font-weight="normal" stroke="#222" stroke-width="0.16">0</text>
<line x1="411.25" y1="178.75" x2="411.25" y2="180.25" stroke="#111" stroke-width="0.8"/>
<text x="411.25" y="185.15" font-family='"Liberation Serif", serif' font-size="4.9" text-anchor="middle" fill="#222" font-weight="normal" stroke="#222" stroke-width="0.16">0</text>
<line x1="431.15" y1="178.75" x2="431.15" y2="180.25" stroke="#111" stroke-width="0.8"/>
<text x="431.15" y="185.15" font-family='"Liberation Serif", serif' font-size="4.9" text-anchor="middle" fill="#222" font-weight="normal" stroke="#222" stroke-width="0.16">100</text>
<line x1="451.05" y1="178.75" x2="451.05" y2="180.25" stroke="#111" stroke-width="0.8"/>
<text x="451.05" y="185.15" font-family='"Liberation Serif", serif' font-size="4.9" text-anchor="middle" fill="#222" font-weight="normal" stroke="#222" stroke-width="0.16">200</text>
<line x1="470.95" y1="178.75" x2="470.95" y2="180.25" stroke="#111" stroke-width="0.8"/>
<text x="470.95" y="185.15" font-family='"Liberation Serif", serif' font-size="4.9" text-anchor="middle" fill="#222" font-weight="normal" stroke="#222" stroke-width="0.16">300</text>
<text x="462.00" y="192.75" font-family='"Liberation Sans", sans-serif' font-size="5.1" text-anchor="middle" fill="#222" font-weight="normal" stroke="#222" stroke-width="0.14">Time to fatigue (min)</text>
<text x="396.45" y="148.88" font-family='"Liberation Sans", sans-serif' font-size="5.0" text-anchor="middle" fill="#222" font-weight="normal" stroke="#222" stroke-width="0.14" transform="rotate(-90 396.45 148.875)">Percent still running</text>
<line x1="436.25" y1="166.25" x2="455.00" y2="166.25" stroke="#111" stroke-width="0.8"/>
<line x1="456.25" y1="173.00" x2="461.25" y2="173.00" stroke="#111" stroke-width="0.8"/>
<polyline points="411.25,118.00 416.08,121.25 420.91,123.00 425.74,127.10 430.57,135.90 435.40,145.25 440.23,150.90 445.06,157.00 449.89,163.00 454.72,168.00 459.55,171.00 464.38,178.75" fill="none" stroke="#7030c0" stroke-width="1.0" stroke-linejoin="round"/>
<path d="M411.25,116.38L412.88,118.00L411.25,119.62L409.62,118.00Z" fill="#7030c0"/>
<path d="M416.08,119.62L417.70,121.25L416.08,122.88L414.45,121.25Z" fill="#7030c0"/>
<path d="M420.91,121.38L422.54,123.00L420.91,124.62L419.29,123.00Z" fill="#7030c0"/>
<path d="M425.74,125.47L427.37,127.10L425.74,128.72L424.12,127.10Z" fill="#7030c0"/>
<path d="M430.57,134.28L432.19,135.90L430.57,137.53L428.94,135.90Z" fill="#7030c0"/>
<path d="M435.40,143.62L437.02,145.25L435.40,146.88L433.77,145.25Z" fill="#7030c0"/>
<path d="M440.23,149.28L441.86,150.90L440.23,152.53L438.61,150.90Z" fill="#7030c0"/>
<path d="M445.06,155.38L446.69,157.00L445.06,158.62L443.44,157.00Z" fill="#7030c0"/>
<path d="M449.89,161.38L451.51,163.00L449.89,164.62L448.26,163.00Z" fill="#7030c0"/>
<path d="M454.72,166.38L456.35,168.00L454.72,169.62L453.10,168.00Z" fill="#7030c0"/>
<path d="M459.55,169.38L461.18,171.00L459.55,172.62L457.93,171.00Z" fill="#7030c0"/>
<path d="M464.38,177.12L466.00,178.75L464.38,180.38L462.75,178.75Z" fill="#7030c0"/>
<polyline points="411.25,118.00 416.08,117.75 420.91,120.25 425.74,125.00 430.57,136.25 435.40,142.10 440.23,149.60 445.06,155.00 449.89,162.00 454.72,169.00 459.55,178.75" fill="none" stroke="#f01010" stroke-width="1.0" stroke-linejoin="round"/>
<circle cx="411.25" cy="118.00" r="1.43" fill="#f01010"/>
<circle cx="416.08" cy="117.75" r="1.43" fill="#f01010"/>
<circle cx="420.91" cy="120.25" r="1.43" fill="#f01010"/>
<circle cx="425.74" cy="125.00" r="1.43" fill="#f01010"/>
<circle cx="430.57" cy="136.25" r="1.43" fill="#f01010"/>
<circle cx="435.40" cy="142.10" r="1.43" fill="#f01010"/>
<circle cx="440.23" cy="149.60" r="1.43" fill="#f01010"/>
<circle cx="445.06" cy="155.00" r="1.43" fill="#f01010"/>
<circle cx="449.89" cy="162.00" r="1.43" fill="#f01010"/>
<circle cx="454.72" cy="169.00" r="1.43" fill="#f01010"/>
<circle cx="459.55" cy="178.75" r="1.43" fill="#f01010"/>
<polyline points="411.25,118.00 416.08,125.90 420.91,130.50 425.74,143.40 430.57,152.00 435.40,165.00 440.23,178.75" fill="none" stroke="#1f6b5a" stroke-width="1.0" stroke-linejoin="round"/>
<path d="M411.25,116.31L412.94,119.35L409.56,119.35Z" fill="#1f6b5a"/>
<path d="M416.08,124.21L417.77,127.25L414.39,127.25Z" fill="#1f6b5a"/>
<path d="M420.91,128.81L422.60,131.85L419.22,131.85Z" fill="#1f6b5a"/>
<path d="M425.74,141.71L427.43,144.75L424.05,144.75Z" fill="#1f6b5a"/>
<path d="M430.57,150.31L432.26,153.35L428.88,153.35Z" fill="#1f6b5a"/>
<path d="M435.40,163.31L437.09,166.35L433.71,166.35Z" fill="#1f6b5a"/>
<path d="M440.23,177.06L441.92,180.10L438.54,180.10Z" fill="#1f6b5a"/>
<path d="M438.90,162.35L438.90,165.05M437.73,163.02L440.07,164.38M440.07,163.02L437.73,164.38" stroke="#111" stroke-width="0.85" stroke-linecap="round"/><circle cx="438.90" cy="163.70" r="0.75" fill="#111"/>
<text x="456.60" y="171.90" font-family='"Liberation Sans", sans-serif' font-size="4.6" text-anchor="start" fill="#111" font-weight="normal" stroke="#111" stroke-width="0.14">ns</text>
<rect x="440.30" y="121.50" width="42.50" height="17.30" fill="#fff" stroke="#888" stroke-width="0.6"/>
<line x1="442.10" y1="125.10" x2="449.30" y2="125.10" stroke="#7030c0" stroke-width="1.2"/>
<path d="M445.70,123.72L447.07,125.10L445.70,126.47L444.32,125.10Z" fill="#7030c0"/>
<text x="451.10" y="126.80" font-family='"Liberation Serif", serif' font-size="5.0" text-anchor="start" fill="#1a1a1a" font-weight="normal" stroke="#1a1a1a" stroke-width="0.16">1-week-old flies</text>
<line x1="442.10" y1="130.40" x2="449.30" y2="130.40" stroke="#f01010" stroke-width="1.2"/>
<circle cx="445.70" cy="130.40" r="1.21" fill="#f01010"/>
<text x="451.10" y="132.10" font-family='"Liberation Serif", serif' font-size="5.0" text-anchor="start" fill="#1a1a1a" font-weight="normal" stroke="#1a1a1a" stroke-width="0.16">3-week-old flies</text>
<line x1="442.10" y1="135.70" x2="449.30" y2="135.70" stroke="#1f6b5a" stroke-width="1.2"/>
<path d="M445.70,134.27L447.13,136.84L444.27,136.84Z" fill="#1f6b5a"/>
<text x="451.10" y="137.40" font-family='"Liberation Serif", serif' font-size="5.0" text-anchor="start" fill="#1a1a1a" font-weight="normal" stroke="#1a1a1a" stroke-width="0.16">5-week-old flies</text>
<text x="5.60" y="221.60" font-family='"Liberation Serif", serif' font-size="7.4" text-anchor="start" fill="#111" font-weight="bold">I</text>
<line x1="25.00" y1="224.30" x2="25.00" y2="284.00" stroke="#222" stroke-width="0.8"/>
<line x1="25.00" y1="284.00" x2="122.50" y2="284.00" stroke="#222" stroke-width="0.8"/>
<line x1="23.60" y1="283.75" x2="25.00" y2="283.75" stroke="#222" stroke-width="0.5"/>
<text x="21.10" y="285.40" font-family='"Liberation Serif", serif' font-size="4.8" text-anchor="end" fill="#1a1a1a" font-weight="normal" stroke="#1a1a1a" stroke-width="0.16">0.00</text>
<line x1="23.60" y1="273.89" x2="25.00" y2="273.89" stroke="#222" stroke-width="0.5"/>
<text x="21.10" y="275.54" font-family='"Liberation Serif", serif' font-size="4.8" text-anchor="end" fill="#1a1a1a" font-weight="normal" stroke="#1a1a1a" stroke-width="0.16">0.20</text>
<line x1="23.60" y1="264.03" x2="25.00" y2="264.03" stroke="#222" stroke-width="0.5"/>
<text x="21.10" y="265.68" font-family='"Liberation Serif", serif' font-size="4.8" text-anchor="end" fill="#1a1a1a" font-weight="normal" stroke="#1a1a1a" stroke-width="0.16">0.40</text>
<line x1="23.60" y1="254.17" x2="25.00" y2="254.17" stroke="#222" stroke-width="0.5"/>
<text x="21.10" y="255.82" font-family='"Liberation Serif", serif' font-size="4.8" text-anchor="end" fill="#1a1a1a" font-weight="normal" stroke="#1a1a1a" stroke-width="0.16">0.60</text>
<line x1="23.60" y1="244.31" x2="25.00" y2="244.31" stroke="#222" stroke-width="0.5"/>
<text x="21.10" y="245.96" font-family='"Liberation Serif", serif' font-size="4.8" text-anchor="end" fill="#1a1a1a" font-weight="normal" stroke="#1a1a1a" stroke-width="0.16">0.80</text>
<line x1="23.60" y1="234.45" x2="25.00" y2="234.45" stroke="#222" stroke-width="0.5"/>
<text x="21.10" y="236.10" font-family='"Liberation Serif", serif' font-size="4.8" text-anchor="end" fill="#1a1a1a" font-weight="normal" stroke="#1a1a1a" stroke-width="0.16">1.00</text>
<line x1="23.60" y1="224.59" x2="25.00" y2="224.59" stroke="#222" stroke-width="0.5"/>
<text x="21.10" y="226.24" font-family='"Liberation Serif", serif' font-size="4.8" text-anchor="end" fill="#1a1a1a" font-weight="normal" stroke="#1a1a1a" stroke-width="0.16">1.20</text>
<line x1="38.00" y1="284.00" x2="38.00" y2="285.60" stroke="#222" stroke-width="0.5"/>
<text x="38.00" y="291.50" font-family='"Liberation Serif", serif' font-size="4.8" text-anchor="middle" fill="#1a1a1a" font-weight="normal" stroke="#1a1a1a" stroke-width="0.16">2-day-old</text>
<text x="38.00" y="295.90" font-family='"Liberation Serif", serif' font-size="4.8" text-anchor="middle" fill="#1a1a1a" font-weight="normal" stroke="#1a1a1a" stroke-width="0.16">flies</text>
<line x1="62.50" y1="284.00" x2="62.50" y2="285.60" stroke="#222" stroke-width="0.5"/>
<text x="62.50" y="291.50" font-family='"Liberation Serif", serif' font-size="4.8" text-anchor="middle" fill="#1a1a1a" font-weight="normal" stroke="#1a1a1a" stroke-width="0.16">1-week-old</text>
<text x="62.50" y="295.90" font-family='"Liberation Serif", serif' font-size="4.8" text-anchor="middle" fill="#1a1a1a" font-weight="normal" stroke="#1a1a1a" stroke-width="0.16">flies</text>
<line x1="87.50" y1="284.00" x2="87.50" y2="285.60" stroke="#222" stroke-width="0.5"/>
<text x="87.50" y="291.50" font-family='"Liberation Serif", serif' font-size="4.8" text-anchor="middle" fill="#1a1a1a" font-weight="normal" stroke="#1a1a1a" stroke-width="0.16">3-week-old</text>
<text x="87.50" y="295.90" font-family='"Liberation Serif", serif' font-size="4.8" text-anchor="middle" fill="#1a1a1a" font-weight="normal" stroke="#1a1a1a" stroke-width="0.16">flies</text>
<line x1="112.00" y1="284.00" x2="112.00" y2="285.60" stroke="#222" stroke-width="0.5"/>
<text x="112.00" y="291.50" font-family='"Liberation Serif", serif' font-size="4.8" text-anchor="middle" fill="#1a1a1a" font-weight="normal" stroke="#1a1a1a" stroke-width="0.16">5-week-old</text>
<text x="112.00" y="295.90" font-family='"Liberation Serif", serif' font-size="4.8" text-anchor="middle" fill="#1a1a1a" font-weight="normal" stroke="#1a1a1a" stroke-width="0.16">flies</text>
<text x="74.50" y="302.20" font-family='"Liberation Sans", sans-serif' font-size="5.0" text-anchor="middle" fill="#222" font-weight="normal" stroke="#222" stroke-width="0.14">Age</text>
<text x="10.90" y="254.70" font-family='"Liberation Serif", serif' font-size="5.0" text-anchor="middle" fill="#1a1a1a" font-weight="normal" stroke="#1a1a1a" stroke-width="0.16" transform="rotate(-90 10.9 254.7)">Normalized climbing index</text>
<path d="M37.5,228 L37.5,225.5 L112,225.5 L112,228" fill="none" stroke="#888" stroke-width="0.6"/>
<path d="M73.56,221.10L73.56,223.71M72.43,221.75L74.69,223.06M74.69,221.75L72.43,223.06" stroke="#111" stroke-width="0.82" stroke-linecap="round"/><circle cx="73.56" cy="222.41" r="0.73" fill="#111"/>
<path d="M76.56,221.10L76.56,223.71M75.43,221.75L77.69,223.06M77.69,221.75L75.43,223.06" stroke="#111" stroke-width="0.82" stroke-linecap="round"/><circle cx="76.56" cy="222.41" r="0.73" fill="#111"/>
<polyline points="38.00,234.45 62.50,244.80 87.50,261.07 112.00,277.34" fill="none" stroke="#c42020" stroke-width="1.0" stroke-linejoin="round" stroke-dasharray="1.8,1.0"/>
<line x1="38.00" y1="231.49" x2="38.00" y2="237.41" stroke="#c42020" stroke-width="0.6"/>
<line x1="37.10" y1="231.49" x2="38.90" y2="231.49" stroke="#c42020" stroke-width="0.5"/>
<line x1="37.10" y1="237.41" x2="38.90" y2="237.41" stroke="#c42020" stroke-width="0.5"/>
<line x1="62.50" y1="241.84" x2="62.50" y2="247.76" stroke="#c42020" stroke-width="0.6"/>
<line x1="61.60" y1="241.84" x2="63.40" y2="241.84" stroke="#c42020" stroke-width="0.5"/>
<line x1="61.60" y1="247.76" x2="63.40" y2="247.76" stroke="#c42020" stroke-width="0.5"/>
<line x1="87.50" y1="257.62" x2="87.50" y2="264.52" stroke="#c42020" stroke-width="0.6"/>
<line x1="86.60" y1="257.62" x2="88.40" y2="257.62" stroke="#c42020" stroke-width="0.5"/>
<line x1="86.60" y1="264.52" x2="88.40" y2="264.52" stroke="#c42020" stroke-width="0.5"/>
<line x1="112.00" y1="273.89" x2="112.00" y2="280.79" stroke="#c42020" stroke-width="0.6"/>
<line x1="111.10" y1="273.89" x2="112.90" y2="273.89" stroke="#c42020" stroke-width="0.5"/>
<line x1="111.10" y1="280.79" x2="112.90" y2="280.79" stroke="#c42020" stroke-width="0.5"/>
<polyline points="38.00,234.45 62.50,240.37 87.50,255.16 112.00,271.43" fill="none" stroke="#4dc070" stroke-width="1.0" stroke-linejoin="round"/>
<line x1="38.00" y1="231.49" x2="38.00" y2="237.41" stroke="#4dc070" stroke-width="0.6"/>
<line x1="37.10" y1="231.49" x2="38.90" y2="231.49" stroke="#4dc070" stroke-width="0.5"/>
<line x1="37.10" y1="237.41" x2="38.90" y2="237.41" stroke="#4dc070" stroke-width="0.5"/>
<line x1="62.50" y1="237.90" x2="62.50" y2="242.83" stroke="#4dc070" stroke-width="0.6"/>
<line x1="61.60" y1="237.90" x2="63.40" y2="237.90" stroke="#4dc070" stroke-width="0.5"/>
<line x1="61.60" y1="242.83" x2="63.40" y2="242.83" stroke="#4dc070" stroke-width="0.5"/>
<line x1="87.50" y1="251.71" x2="87.50" y2="258.61" stroke="#4dc070" stroke-width="0.6"/>
<line x1="86.60" y1="251.71" x2="88.40" y2="251.71" stroke="#4dc070" stroke-width="0.5"/>
<line x1="86.60" y1="258.61" x2="88.40" y2="258.61" stroke="#4dc070" stroke-width="0.5"/>
<line x1="112.00" y1="268.47" x2="112.00" y2="274.38" stroke="#4dc070" stroke-width="0.6"/>
<line x1="111.10" y1="268.47" x2="112.90" y2="268.47" stroke="#4dc070" stroke-width="0.5"/>
<line x1="111.10" y1="274.38" x2="112.90" y2="274.38" stroke="#4dc070" stroke-width="0.5"/>
<polyline points="38.00,234.45 62.50,238.89 87.50,247.76 112.00,265.51" fill="none" stroke="#f2a05a" stroke-width="1.0" stroke-linejoin="round"/>
<line x1="38.00" y1="231.49" x2="38.00" y2="237.41" stroke="#f2a05a" stroke-width="0.6"/>
<line x1="37.10" y1="231.49" x2="38.90" y2="231.49" stroke="#f2a05a" stroke-width="0.5"/>
<line x1="37.10" y1="237.41" x2="38.90" y2="237.41" stroke="#f2a05a" stroke-width="0.5"/>
<line x1="62.50" y1="236.42" x2="62.50" y2="241.35" stroke="#f2a05a" stroke-width="0.6"/>
<line x1="61.60" y1="236.42" x2="63.40" y2="236.42" stroke="#f2a05a" stroke-width="0.5"/>
<line x1="61.60" y1="241.35" x2="63.40" y2="241.35" stroke="#f2a05a" stroke-width="0.5"/>
<line x1="87.50" y1="243.32" x2="87.50" y2="252.20" stroke="#f2a05a" stroke-width="0.6"/>
<line x1="86.60" y1="243.32" x2="88.40" y2="243.32" stroke="#f2a05a" stroke-width="0.5"/>
<line x1="86.60" y1="252.20" x2="88.40" y2="252.20" stroke="#f2a05a" stroke-width="0.5"/>
<line x1="112.00" y1="261.56" x2="112.00" y2="269.45" stroke="#f2a05a" stroke-width="0.6"/>
<line x1="111.10" y1="261.56" x2="112.90" y2="261.56" stroke="#f2a05a" stroke-width="0.5"/>
<line x1="111.10" y1="269.45" x2="112.90" y2="269.45" stroke="#f2a05a" stroke-width="0.5"/>
<polyline points="38.00,234.45 62.50,235.44 87.50,241.84 112.00,260.09" fill="none" stroke="#111" stroke-width="1.0" stroke-linejoin="round"/>
<line x1="38.00" y1="231.00" x2="38.00" y2="237.90" stroke="#111" stroke-width="0.6"/>
<line x1="37.10" y1="231.00" x2="38.90" y2="231.00" stroke="#111" stroke-width="0.5"/>
<line x1="37.10" y1="237.90" x2="38.90" y2="237.90" stroke="#111" stroke-width="0.5"/>
<line x1="62.50" y1="232.97" x2="62.50" y2="237.90" stroke="#111" stroke-width="0.6"/>
<line x1="61.60" y1="232.97" x2="63.40" y2="232.97" stroke="#111" stroke-width="0.5"/>
<line x1="61.60" y1="237.90" x2="63.40" y2="237.90" stroke="#111" stroke-width="0.5"/>
<line x1="87.50" y1="239.63" x2="87.50" y2="244.06" stroke="#111" stroke-width="0.6"/>
<line x1="86.60" y1="239.63" x2="88.40" y2="239.63" stroke="#111" stroke-width="0.5"/>
<line x1="86.60" y1="244.06" x2="88.40" y2="244.06" stroke="#111" stroke-width="0.5"/>
<line x1="112.00" y1="257.87" x2="112.00" y2="262.30" stroke="#111" stroke-width="0.6"/>
<line x1="111.10" y1="257.87" x2="112.90" y2="257.87" stroke="#111" stroke-width="0.5"/>
<line x1="111.10" y1="262.30" x2="112.90" y2="262.30" stroke="#111" stroke-width="0.5"/>
<line x1="31.20" y1="260.50" x2="40.00" y2="260.50" stroke="#111" stroke-width="1.0"/>
<text x="41.30" y="262.10" font-family='"Liberation Serif", serif' font-size="4.85" text-anchor="start" fill="#1a1a1a" font-weight="normal" stroke="#1a1a1a" stroke-width="0.16">w1118</text>
<line x1="31.20" y1="265.60" x2="40.00" y2="265.60" stroke="#f2a05a" stroke-width="1.0"/>
<text x="41.30" y="267.20" font-family='"Liberation Serif", serif' font-size="4.85" text-anchor="start" fill="#1a1a1a" font-weight="normal" stroke="#1a1a1a" stroke-width="0.16">w1118 + 2%salt</text>
<line x1="31.20" y1="270.70" x2="40.00" y2="270.70" stroke="#4dc070" stroke-width="1.0"/>
<text x="41.30" y="272.30" font-family='"Liberation Serif", serif' font-size="4.85" text-anchor="start" fill="#1a1a1a" font-weight="normal" stroke="#1a1a1a" stroke-width="0.16">w1118 + 4%salt</text>
<line x1="31.20" y1="275.80" x2="40.00" y2="275.80" stroke="#c42020" stroke-width="1.0" stroke-dasharray="1.8,1.0"/>
<text x="41.30" y="277.40" font-family='"Liberation Serif", serif' font-size="4.85" text-anchor="start" fill="#1a1a1a" font-weight="normal" stroke="#1a1a1a" stroke-width="0.16">w1118 + 8%salt</text>
<text x="135.90" y="222.20" font-family='"Liberation Serif", serif' font-size="6.8" text-anchor="start" fill="#111" font-weight="bold">J</text>
<line x1="156.40" y1="223.10" x2="156.40" y2="288.80" stroke="#222" stroke-width="0.8"/>
<line x1="156.40" y1="288.80" x2="269.60" y2="288.80" stroke="#444" stroke-width="0.7"/>
<line x1="155.00" y1="288.80" x2="156.40" y2="288.80" stroke="#222" stroke-width="0.5"/>
<text x="152.70" y="290.45" font-family='"Liberation Serif", serif' font-size="4.8" text-anchor="end" fill="#1a1a1a" font-weight="normal" stroke="#1a1a1a" stroke-width="0.16">0.00</text>
<line x1="155.00" y1="276.80" x2="156.40" y2="276.80" stroke="#222" stroke-width="0.5"/>
<text x="152.70" y="278.45" font-family='"Liberation Serif", serif' font-size="4.8" text-anchor="end" fill="#1a1a1a" font-weight="normal" stroke="#1a1a1a" stroke-width="0.16">0.20</text>
<line x1="155.00" y1="264.80" x2="156.40" y2="264.80" stroke="#222" stroke-width="0.5"/>
<text x="152.70" y="266.45" font-family='"Liberation Serif", serif' font-size="4.8" text-anchor="end" fill="#1a1a1a" font-weight="normal" stroke="#1a1a1a" stroke-width="0.16">0.40</text>
<line x1="155.00" y1="252.80" x2="156.40" y2="252.80" stroke="#222" stroke-width="0.5"/>
<text x="152.70" y="254.45" font-family='"Liberation Serif", serif' font-size="4.8" text-anchor="end" fill="#1a1a1a" font-weight="normal" stroke="#1a1a1a" stroke-width="0.16">0.60</text>
<line x1="155.00" y1="240.80" x2="156.40" y2="240.80" stroke="#222" stroke-width="0.5"/>
<text x="152.70" y="242.45" font-family='"Liberation Serif", serif' font-size="4.8" text-anchor="end" fill="#1a1a1a" font-weight="normal" stroke="#1a1a1a" stroke-width="0.16">0.80</text>
<line x1="155.00" y1="228.80" x2="156.40" y2="228.80" stroke="#222" stroke-width="0.5"/>
<text x="152.70" y="230.45" font-family='"Liberation Serif", serif' font-size="4.8" text-anchor="end" fill="#1a1a1a" font-weight="normal" stroke="#1a1a1a" stroke-width="0.16">1.00</text>
<text x="138.60" y="259.00" font-family='"Liberation Serif", serif' font-size="4.4" text-anchor="middle" fill="#1a1a1a" font-weight="normal" stroke="#1a1a1a" stroke-width="0.16" transform="rotate(-90 138.6 259.0)">Normalized climbing index</text>
<rect x="161.10" y="230.00" width="7.10" height="58.80" fill="#000" stroke="none" stroke-width="0.6"/>
<line x1="164.65" y1="226.40" x2="164.65" y2="230.00" stroke="#333" stroke-width="0.5"/>
<line x1="163.75" y1="226.40" x2="165.55" y2="226.40" stroke="#333" stroke-width="0.5"/>
<rect x="168.50" y="233.90" width="7.10" height="54.90" fill="#f58a2e" stroke="none" stroke-width="0.6"/>
<line x1="172.05" y1="230.30" x2="172.05" y2="237.50" stroke="#333" stroke-width="0.5"/>
<line x1="171.15" y1="230.30" x2="172.95" y2="230.30" stroke="#333" stroke-width="0.5"/>
<line x1="171.15" y1="237.50" x2="172.95" y2="237.50" stroke="#333" stroke-width="0.5"/>
<rect x="175.90" y="236.00" width="7.10" height="52.80" fill="#23b14d" stroke="none" stroke-width="0.6"/>
<line x1="179.45" y1="233.60" x2="179.45" y2="238.40" stroke="#333" stroke-width="0.5"/>
<line x1="178.55" y1="233.60" x2="180.35" y2="233.60" stroke="#333" stroke-width="0.5"/>
<line x1="178.55" y1="238.40" x2="180.35" y2="238.40" stroke="#333" stroke-width="0.5"/>
<rect x="183.30" y="241.40" width="7.10" height="47.40" fill="#ec1c24" stroke="none" stroke-width="0.6"/>
<line x1="186.85" y1="238.70" x2="186.85" y2="244.10" stroke="#333" stroke-width="0.5"/>
<line x1="185.95" y1="238.70" x2="187.75" y2="238.70" stroke="#333" stroke-width="0.5"/>
<line x1="185.95" y1="244.10" x2="187.75" y2="244.10" stroke="#333" stroke-width="0.5"/>
<rect x="161.10" y="290.00" width="29.60" height="1.30" fill="#9a9a9a" stroke="none" stroke-width="0.6"/>
<text x="175.90" y="296.80" font-family='"Liberation Serif", serif' font-size="4.8" text-anchor="middle" fill="#1a1a1a" font-weight="normal" stroke="#1a1a1a" stroke-width="0.16">1-week-old</text>
<text x="175.90" y="301.90" font-family='"Liberation Serif", serif' font-size="4.8" text-anchor="middle" fill="#1a1a1a" font-weight="normal" stroke="#1a1a1a" stroke-width="0.16">flies</text>
<rect x="198.60" y="237.80" width="7.10" height="51.00" fill="#000" stroke="none" stroke-width="0.6"/>
<line x1="202.15" y1="236.00" x2="202.15" y2="237.80" stroke="#333" stroke-width="0.5"/>
<line x1="201.25" y1="236.00" x2="203.05" y2="236.00" stroke="#333" stroke-width="0.5"/>
<rect x="206.00" y="245.60" width="7.10" height="43.20" fill="#f58a2e" stroke="none" stroke-width="0.6"/>
<line x1="209.55" y1="241.70" x2="209.55" y2="249.50" stroke="#333" stroke-width="0.5"/>
<line x1="208.65" y1="241.70" x2="210.45" y2="241.70" stroke="#333" stroke-width="0.5"/>
<line x1="208.65" y1="249.50" x2="210.45" y2="249.50" stroke="#333" stroke-width="0.5"/>
<rect x="213.40" y="254.00" width="7.10" height="34.80" fill="#23b14d" stroke="none" stroke-width="0.6"/>
<line x1="216.95" y1="251.60" x2="216.95" y2="256.40" stroke="#333" stroke-width="0.5"/>
<line x1="216.05" y1="251.60" x2="217.85" y2="251.60" stroke="#333" stroke-width="0.5"/>
<line x1="216.05" y1="256.40" x2="217.85" y2="256.40" stroke="#333" stroke-width="0.5"/>
<rect x="220.80" y="261.50" width="7.10" height="27.30" fill="#ec1c24" stroke="none" stroke-width="0.6"/>
<line x1="224.35" y1="258.20" x2="224.35" y2="264.80" stroke="#333" stroke-width="0.5"/>
<line x1="223.45" y1="258.20" x2="225.25" y2="258.20" stroke="#333" stroke-width="0.5"/>
<line x1="223.45" y1="264.80" x2="225.25" y2="264.80" stroke="#333" stroke-width="0.5"/>
<rect x="198.60" y="290.00" width="29.60" height="1.30" fill="#9a9a9a" stroke="none" stroke-width="0.6"/>
<text x="213.40" y="296.80" font-family='"Liberation Serif", serif' font-size="4.8" text-anchor="middle" fill="#1a1a1a" font-weight="normal" stroke="#1a1a1a" stroke-width="0.16">3-week-old</text>
<text x="213.40" y="301.90" font-family='"Liberation Serif", serif' font-size="4.8" text-anchor="middle" fill="#1a1a1a" font-weight="normal" stroke="#1a1a1a" stroke-width="0.16">flies</text>
<rect x="235.90" y="261.20" width="7.10" height="27.60" fill="#000" stroke="none" stroke-width="0.6"/>
<line x1="239.45" y1="259.40" x2="239.45" y2="261.20" stroke="#333" stroke-width="0.5"/>
<line x1="238.55" y1="259.40" x2="240.35" y2="259.40" stroke="#333" stroke-width="0.5"/>
<rect x="243.30" y="267.80" width="7.10" height="21.00" fill="#f58a2e" stroke="none" stroke-width="0.6"/>
<line x1="246.85" y1="264.80" x2="246.85" y2="270.80" stroke="#333" stroke-width="0.5"/>
<line x1="245.95" y1="264.80" x2="247.75" y2="264.80" stroke="#333" stroke-width="0.5"/>
<line x1="245.95" y1="270.80" x2="247.75" y2="270.80" stroke="#333" stroke-width="0.5"/>
<rect x="250.70" y="276.20" width="7.10" height="12.60" fill="#23b14d" stroke="none" stroke-width="0.6"/>
<line x1="254.25" y1="273.20" x2="254.25" y2="279.20" stroke="#333" stroke-width="0.5"/>
<line x1="253.35" y1="273.20" x2="255.15" y2="273.20" stroke="#333" stroke-width="0.5"/>
<line x1="253.35" y1="279.20" x2="255.15" y2="279.20" stroke="#333" stroke-width="0.5"/>
<rect x="258.10" y="283.10" width="7.10" height="5.70" fill="#ec1c24" stroke="none" stroke-width="0.6"/>
<line x1="261.65" y1="280.70" x2="261.65" y2="285.50" stroke="#333" stroke-width="0.5"/>
<line x1="260.75" y1="280.70" x2="262.55" y2="280.70" stroke="#333" stroke-width="0.5"/>
<line x1="260.75" y1="285.50" x2="262.55" y2="285.50" stroke="#333" stroke-width="0.5"/>
<rect x="235.90" y="290.00" width="29.60" height="1.30" fill="#9a9a9a" stroke="none" stroke-width="0.6"/>
<text x="250.70" y="296.80" font-family='"Liberation Serif", serif' font-size="4.8" text-anchor="middle" fill="#1a1a1a" font-weight="normal" stroke="#1a1a1a" stroke-width="0.16">5-week-old</text>
<text x="250.70" y="301.90" font-family='"Liberation Serif", serif' font-size="4.8" text-anchor="middle" fill="#1a1a1a" font-weight="normal" stroke="#1a1a1a" stroke-width="0.16">flies</text>
<path d="M164.4,224.5 L164.4,223.4 L172.5,223.4 L172.5,224.5" fill="none" stroke="#777" stroke-width="0.55"/>
<text x="168.45" y="222.60" font-family='"Liberation Sans", sans-serif' font-size="4.4" text-anchor="middle" fill="#1a1a1a" font-weight="normal" stroke="#1a1a1a" stroke-width="0.14">ns</text>
<path d="M164.4,218.5 L164.4,217.4 L180.0,217.4 L180.0,218.5" fill="none" stroke="#777" stroke-width="0.55"/>
<path d="M172.11,213.10L172.11,215.71M170.98,213.75L173.24,215.06M173.24,213.75L170.98,215.06" stroke="#111" stroke-width="0.82" stroke-linecap="round"/><circle cx="172.11" cy="214.41" r="0.73" fill="#111"/>
<path d="M164.4,212.4 L164.4,211.3 L187.5,211.3 L187.5,212.4" fill="none" stroke="#777" stroke-width="0.55"/>
<path d="M174.51,207.00L174.51,209.61M173.38,207.65L175.64,208.96M175.64,207.65L173.38,208.96" stroke="#111" stroke-width="0.82" stroke-linecap="round"/><circle cx="174.51" cy="208.31" r="0.73" fill="#111"/>
<path d="M177.51,207.00L177.51,209.61M176.38,207.65L178.64,208.96M178.64,207.65L176.38,208.96" stroke="#111" stroke-width="0.82" stroke-linecap="round"/><circle cx="177.51" cy="208.31" r="0.73" fill="#111"/>
<path d="M201.4,233.1 L201.4,232.0 L210.0,232.0 L210.0,233.1" fill="none" stroke="#777" stroke-width="0.55"/>
<path d="M205.61,227.70L205.61,230.31M204.48,228.35L206.74,229.66M206.74,228.35L204.48,229.66" stroke="#111" stroke-width="0.82" stroke-linecap="round"/><circle cx="205.61" cy="229.01" r="0.73" fill="#111"/>
<path d="M201.4,226.29999999999998 L201.4,225.2 L217.5,225.2 L217.5,226.29999999999998" fill="none" stroke="#777" stroke-width="0.55"/>
<path d="M208.01,220.90L208.01,223.51M206.88,221.55L209.14,222.86M209.14,221.55L206.88,222.86" stroke="#111" stroke-width="0.82" stroke-linecap="round"/><circle cx="208.01" cy="222.21" r="0.73" fill="#111"/>
<path d="M211.01,220.90L211.01,223.51M209.88,221.55L212.14,222.86M212.14,221.55L209.88,222.86" stroke="#111" stroke-width="0.82" stroke-linecap="round"/><circle cx="211.01" cy="222.21" r="0.73" fill="#111"/>
<path d="M201.4,219.9 L201.4,218.8 L225.0,218.8 L225.0,219.9" fill="none" stroke="#777" stroke-width="0.55"/>
<path d="M211.76,214.50L211.76,217.11M210.63,215.15L212.89,216.46M212.89,215.15L210.63,216.46" stroke="#111" stroke-width="0.82" stroke-linecap="round"/><circle cx="211.76" cy="215.81" r="0.73" fill="#111"/>
<path d="M214.76,214.50L214.76,217.11M213.63,215.15L215.89,216.46M215.89,215.15L213.63,216.46" stroke="#111" stroke-width="0.82" stroke-linecap="round"/><circle cx="214.76" cy="215.81" r="0.73" fill="#111"/>
<path d="M238.8,254.9 L238.8,253.8 L247.5,253.8 L247.5,254.9" fill="none" stroke="#777" stroke-width="0.55"/>
<path d="M243.06,249.50L243.06,252.11M241.93,250.15L244.19,251.46M244.19,250.15L241.93,251.46" stroke="#111" stroke-width="0.82" stroke-linecap="round"/><circle cx="243.06" cy="250.81" r="0.73" fill="#111"/>
<path d="M238.8,248.29999999999998 L238.8,247.2 L255.0,247.2 L255.0,248.29999999999998" fill="none" stroke="#777" stroke-width="0.55"/>
<path d="M245.46,242.90L245.46,245.51M244.33,243.55L246.59,244.86M246.59,243.55L244.33,244.86" stroke="#111" stroke-width="0.82" stroke-linecap="round"/><circle cx="245.46" cy="244.21" r="0.73" fill="#111"/>
<path d="M248.46,242.90L248.46,245.51M247.33,243.55L249.59,244.86M249.59,243.55L247.33,244.86" stroke="#111" stroke-width="0.82" stroke-linecap="round"/><circle cx="248.46" cy="244.21" r="0.73" fill="#111"/>
<path d="M238.8,242.4 L238.8,241.3 L263.0,241.3 L263.0,242.4" fill="none" stroke="#777" stroke-width="0.55"/>
<path d="M249.46,237.00L249.46,239.61M248.33,237.65L250.59,238.96M250.59,237.65L248.33,238.96" stroke="#111" stroke-width="0.82" stroke-linecap="round"/><circle cx="249.46" cy="238.31" r="0.73" fill="#111"/>
<path d="M252.46,237.00L252.46,239.61M251.33,237.65L253.59,238.96M253.59,237.65L251.33,238.96" stroke="#111" stroke-width="0.82" stroke-linecap="round"/><circle cx="252.46" cy="238.31" r="0.73" fill="#111"/>
<rect x="230.50" y="211.30" width="43.30" height="22.40" fill="#fff" stroke="#666" stroke-width="0.6"/>
<rect x="232.40" y="212.40" width="4.80" height="3.80" fill="#000" stroke="none" stroke-width="0.6"/>
<text x="238.90" y="215.90" font-family='"Liberation Serif", serif' font-size="4.85" text-anchor="start" fill="#1a1a1a" font-weight="normal" stroke="#1a1a1a" stroke-width="0.16">w1118</text>
<rect x="232.40" y="217.80" width="4.80" height="3.80" fill="#f58a2e" stroke="none" stroke-width="0.6"/>
<text x="238.90" y="221.30" font-family='"Liberation Serif", serif' font-size="4.85" text-anchor="start" fill="#1a1a1a" font-weight="normal" stroke="#1a1a1a" stroke-width="0.16">w1118 + 2%salt</text>
<rect x="232.40" y="223.20" width="4.80" height="3.80" fill="#23b14d" stroke="none" stroke-width="0.6"/>
<text x="238.90" y="226.70" font-family='"Liberation Serif", serif' font-size="4.85" text-anchor="start" fill="#1a1a1a" font-weight="normal" stroke="#1a1a1a" stroke-width="0.16">w1118 + 4%salt</text>
<rect x="232.40" y="228.60" width="4.80" height="3.80" fill="#ec1c24" stroke="none" stroke-width="0.6"/>
<text x="238.90" y="232.10" font-family='"Liberation Serif", serif' font-size="4.85" text-anchor="start" fill="#1a1a1a" font-weight="normal" stroke="#1a1a1a" stroke-width="0.16">w1118 + 8%salt</text>
<text x="288.50" y="218.90" font-family='"Liberation Serif", serif' font-size="6.6" text-anchor="start" fill="#111" font-weight="bold">K</text>
<line x1="303.10" y1="222.00" x2="303.10" y2="284.40" stroke="#333" stroke-width="0.8"/>
<line x1="303.10" y1="284.40" x2="385.40" y2="284.40" stroke="#444" stroke-width="0.8"/>
<line x1="301.80" y1="284.40" x2="303.10" y2="284.40" stroke="#333" stroke-width="0.5"/>
<text x="299.20" y="286.00" font-family='"Liberation Serif", serif' font-size="4.6" text-anchor="end" fill="#1a1a1a" font-weight="normal" stroke="#1a1a1a" stroke-width="0.16">0</text>
<line x1="301.80" y1="272.42" x2="303.10" y2="272.42" stroke="#333" stroke-width="0.5"/>
<text x="299.20" y="274.02" font-family='"Liberation Serif", serif' font-size="4.6" text-anchor="end" fill="#1a1a1a" font-weight="normal" stroke="#1a1a1a" stroke-width="0.16">20</text>
<line x1="301.80" y1="260.44" x2="303.10" y2="260.44" stroke="#333" stroke-width="0.5"/>
<text x="299.20" y="262.04" font-family='"Liberation Serif", serif' font-size="4.6" text-anchor="end" fill="#1a1a1a" font-weight="normal" stroke="#1a1a1a" stroke-width="0.16">40</text>
<line x1="301.80" y1="248.46" x2="303.10" y2="248.46" stroke="#333" stroke-width="0.5"/>
<text x="299.20" y="250.06" font-family='"Liberation Serif", serif' font-size="4.6" text-anchor="end" fill="#1a1a1a" font-weight="normal" stroke="#1a1a1a" stroke-width="0.16">60</text>
<line x1="301.80" y1="236.48" x2="303.10" y2="236.48" stroke="#333" stroke-width="0.5"/>
<text x="299.20" y="238.08" font-family='"Liberation Serif", serif' font-size="4.6" text-anchor="end" fill="#1a1a1a" font-weight="normal" stroke="#1a1a1a" stroke-width="0.16">80</text>
<line x1="301.80" y1="224.50" x2="303.10" y2="224.50" stroke="#333" stroke-width="0.5"/>
<text x="299.20" y="226.10" font-family='"Liberation Serif", serif' font-size="4.6" text-anchor="end" fill="#1a1a1a" font-weight="normal" stroke="#1a1a1a" stroke-width="0.16">100</text>
<line x1="303.20" y1="284.40" x2="303.20" y2="285.70" stroke="#333" stroke-width="0.5"/>
<text x="303.20" y="290.60" font-family='"Liberation Serif", serif' font-size="4.5" text-anchor="middle" fill="#1a1a1a" font-weight="normal" stroke="#1a1a1a" stroke-width="0.16">0</text>
<line x1="314.12" y1="284.40" x2="314.12" y2="285.70" stroke="#333" stroke-width="0.5"/>
<text x="314.12" y="290.60" font-family='"Liberation Serif", serif' font-size="4.5" text-anchor="middle" fill="#1a1a1a" font-weight="normal" stroke="#1a1a1a" stroke-width="0.16">20</text>
<line x1="325.04" y1="284.40" x2="325.04" y2="285.70" stroke="#333" stroke-width="0.5"/>
<text x="325.04" y="290.60" font-family='"Liberation Serif", serif' font-size="4.5" text-anchor="middle" fill="#1a1a1a" font-weight="normal" stroke="#1a1a1a" stroke-width="0.16">30</text>
<line x1="335.96" y1="284.40" x2="335.96" y2="285.70" stroke="#333" stroke-width="0.5"/>
<text x="335.96" y="290.60" font-family='"Liberation Serif", serif' font-size="4.5" text-anchor="middle" fill="#1a1a1a" font-weight="normal" stroke="#1a1a1a" stroke-width="0.16">40</text>
<line x1="346.88" y1="284.40" x2="346.88" y2="285.70" stroke="#333" stroke-width="0.5"/>
<text x="346.88" y="290.60" font-family='"Liberation Serif", serif' font-size="4.5" text-anchor="middle" fill="#1a1a1a" font-weight="normal" stroke="#1a1a1a" stroke-width="0.16">50</text>
<line x1="357.80" y1="284.40" x2="357.80" y2="285.70" stroke="#333" stroke-width="0.5"/>
<text x="357.80" y="290.60" font-family='"Liberation Serif", serif' font-size="4.5" text-anchor="middle" fill="#1a1a1a" font-weight="normal" stroke="#1a1a1a" stroke-width="0.16">60</text>
<line x1="368.72" y1="284.40" x2="368.72" y2="285.70" stroke="#333" stroke-width="0.5"/>
<text x="368.72" y="290.60" font-family='"Liberation Serif", serif' font-size="4.5" text-anchor="middle" fill="#1a1a1a" font-weight="normal" stroke="#1a1a1a" stroke-width="0.16">70</text>
<line x1="379.64" y1="284.40" x2="379.64" y2="285.70" stroke="#333" stroke-width="0.5"/>
<text x="379.64" y="290.60" font-family='"Liberation Serif", serif' font-size="4.5" text-anchor="middle" fill="#1a1a1a" font-weight="normal" stroke="#1a1a1a" stroke-width="0.16">80</text>
<text x="345.00" y="297.60" font-family='"Liberation Serif", serif' font-size="4.8" text-anchor="middle" fill="#1a1a1a" font-weight="normal" stroke="#1a1a1a" stroke-width="0.16">Age(day)</text>
<text x="289.60" y="255.20" font-family='"Liberation Serif", serif' font-size="4.75" text-anchor="middle" fill="#1a1a1a" font-weight="normal" stroke="#1a1a1a" stroke-width="0.16" transform="rotate(-90 289.6 255.2)">Percentage of survival(%)</text>
<polyline points="303.00,224.50 330.00,224.50 340.00,225.40 348.00,226.60 351.00,228.09 353.00,230.49 354.30,234.68 355.50,239.47 356.80,247.26 358.10,254.45 360.00,262.24 362.00,269.42 364.50,274.22 367.90,278.41 371.00,280.81 375.00,282.60 380.00,284.04" fill="none" stroke="#000" stroke-width="1.3" stroke-linejoin="round"/>
<circle cx="303.00" cy="224.50" r="0.85" fill="#000"/>
<circle cx="305.25" cy="224.50" r="0.85" fill="#000"/>
<circle cx="307.50" cy="224.50" r="0.85" fill="#000"/>
<circle cx="309.75" cy="224.50" r="0.85" fill="#000"/>
<circle cx="312.00" cy="224.50" r="0.85" fill="#000"/>
<circle cx="314.25" cy="224.50" r="0.85" fill="#000"/>
<circle cx="316.50" cy="224.50" r="0.85" fill="#000"/>
<circle cx="318.75" cy="224.50" r="0.85" fill="#000"/>
<circle cx="321.00" cy="224.50" r="0.85" fill="#000"/>
<circle cx="323.25" cy="224.50" r="0.85" fill="#000"/>
<circle cx="325.50" cy="224.50" r="0.85" fill="#000"/>
<circle cx="327.75" cy="224.50" r="0.85" fill="#000"/>
<circle cx="330.00" cy="224.50" r="0.85" fill="#000"/>
<circle cx="332.50" cy="224.72" r="0.85" fill="#000"/>
<circle cx="335.00" cy="224.95" r="0.85" fill="#000"/>
<circle cx="337.50" cy="225.17" r="0.85" fill="#000"/>
<circle cx="340.00" cy="225.40" r="0.85" fill="#000"/>
<circle cx="342.67" cy="225.80" r="0.85" fill="#000"/>
<circle cx="345.33" cy="226.20" r="0.85" fill="#000"/>
<circle cx="348.00" cy="226.60" r="0.85" fill="#000"/>
<circle cx="351.00" cy="228.09" r="0.85" fill="#000"/>
<circle cx="353.00" cy="230.49" r="0.85" fill="#000"/>
<circle cx="354.30" cy="234.68" r="0.85" fill="#000"/>
<circle cx="354.90" cy="237.08" r="0.85" fill="#000"/>
<circle cx="355.50" cy="239.47" r="0.85" fill="#000"/>
<circle cx="355.93" cy="242.07" r="0.85" fill="#000"/>
<circle cx="356.37" cy="244.67" r="0.85" fill="#000"/>
<circle cx="356.80" cy="247.26" r="0.85" fill="#000"/>
<circle cx="357.23" cy="249.66" r="0.85" fill="#000"/>
<circle cx="357.67" cy="252.05" r="0.85" fill="#000"/>
<circle cx="358.10" cy="254.45" r="0.85" fill="#000"/>
<circle cx="358.73" cy="257.05" r="0.85" fill="#000"/>
<circle cx="359.37" cy="259.64" r="0.85" fill="#000"/>
<circle cx="360.00" cy="262.24" r="0.85" fill="#000"/>
<circle cx="360.67" cy="264.63" r="0.85" fill="#000"/>
<circle cx="361.33" cy="267.03" r="0.85" fill="#000"/>
<circle cx="362.00" cy="269.42" r="0.85" fill="#000"/>
<circle cx="363.25" cy="271.82" r="0.85" fill="#000"/>
<circle cx="364.50" cy="274.22" r="0.85" fill="#000"/>
<circle cx="366.20" cy="276.31" r="0.85" fill="#000"/>
<circle cx="367.90" cy="278.41" r="0.85" fill="#000"/>
<circle cx="371.00" cy="280.81" r="0.85" fill="#000"/>
<circle cx="375.00" cy="282.60" r="0.85" fill="#000"/>
<circle cx="377.50" cy="283.32" r="0.85" fill="#000"/>
<polyline points="303.00,224.50 325.00,224.50 335.00,225.10 342.00,226.30 345.50,228.09 347.50,230.49 349.50,234.68 351.50,239.47 353.00,247.26 354.40,254.45 356.50,262.24 358.50,269.42 360.50,274.22 362.90,278.41 366.00,281.40 370.00,283.20 374.00,284.04" fill="none" stroke="#f58a2e" stroke-width="1.3" stroke-linejoin="round"/>
<circle cx="303.00" cy="224.50" r="1.2" fill="#f58a2e"/>
<circle cx="305.20" cy="224.50" r="1.2" fill="#f58a2e"/>
<circle cx="307.40" cy="224.50" r="1.2" fill="#f58a2e"/>
<circle cx="309.60" cy="224.50" r="1.2" fill="#f58a2e"/>
<circle cx="311.80" cy="224.50" r="1.2" fill="#f58a2e"/>
<circle cx="314.00" cy="224.50" r="1.2" fill="#f58a2e"/>
<circle cx="316.20" cy="224.50" r="1.2" fill="#f58a2e"/>
<circle cx="318.40" cy="224.50" r="1.2" fill="#f58a2e"/>
<circle cx="320.60" cy="224.50" r="1.2" fill="#f58a2e"/>
<circle cx="322.80" cy="224.50" r="1.2" fill="#f58a2e"/>
<circle cx="325.00" cy="224.50" r="1.2" fill="#f58a2e"/>
<circle cx="327.50" cy="224.65" r="1.2" fill="#f58a2e"/>
<circle cx="330.00" cy="224.80" r="1.2" fill="#f58a2e"/>
<circle cx="332.50" cy="224.95" r="1.2" fill="#f58a2e"/>
<circle cx="335.00" cy="225.10" r="1.2" fill="#f58a2e"/>
<circle cx="337.33" cy="225.50" r="1.2" fill="#f58a2e"/>
<circle cx="339.67" cy="225.90" r="1.2" fill="#f58a2e"/>
<circle cx="342.00" cy="226.30" r="1.2" fill="#f58a2e"/>
<circle cx="345.50" cy="228.09" r="1.2" fill="#f58a2e"/>
<circle cx="347.50" cy="230.49" r="1.2" fill="#f58a2e"/>
<circle cx="348.50" cy="232.59" r="1.2" fill="#f58a2e"/>
<circle cx="349.50" cy="234.68" r="1.2" fill="#f58a2e"/>
<circle cx="350.50" cy="237.08" r="1.2" fill="#f58a2e"/>
<circle cx="351.50" cy="239.47" r="1.2" fill="#f58a2e"/>
<circle cx="352.00" cy="242.07" r="1.2" fill="#f58a2e"/>
<circle cx="352.50" cy="244.67" r="1.2" fill="#f58a2e"/>
<circle cx="353.00" cy="247.26" r="1.2" fill="#f58a2e"/>
<circle cx="353.47" cy="249.66" r="1.2" fill="#f58a2e"/>
<circle cx="353.93" cy="252.05" r="1.2" fill="#f58a2e"/>
<circle cx="354.40" cy="254.45" r="1.2" fill="#f58a2e"/>
<circle cx="355.10" cy="257.05" r="1.2" fill="#f58a2e"/>
<circle cx="355.80" cy="259.64" r="1.2" fill="#f58a2e"/>
<circle cx="356.50" cy="262.24" r="1.2" fill="#f58a2e"/>
<circle cx="357.17" cy="264.63" r="1.2" fill="#f58a2e"/>
<circle cx="357.83" cy="267.03" r="1.2" fill="#f58a2e"/>
<circle cx="358.50" cy="269.42" r="1.2" fill="#f58a2e"/>
<circle cx="359.50" cy="271.82" r="1.2" fill="#f58a2e"/>
<circle cx="360.50" cy="274.22" r="1.2" fill="#f58a2e"/>
<circle cx="361.70" cy="276.31" r="1.2" fill="#f58a2e"/>
<circle cx="362.90" cy="278.41" r="1.2" fill="#f58a2e"/>
<circle cx="366.00" cy="281.40" r="1.2" fill="#f58a2e"/>
<circle cx="370.00" cy="283.20" r="1.2" fill="#f58a2e"/>
<polyline points="303.00,224.50 320.00,224.50 326.00,225.10 331.00,226.90 334.00,228.69 335.80,230.49 337.50,233.48 339.70,239.47 341.00,247.26 342.30,254.45 344.00,263.44 346.00,269.42 348.00,274.22 351.00,278.41 354.00,280.81 357.00,282.60 362.00,284.04" fill="none" stroke="#f01515" stroke-width="1.3" stroke-linejoin="round"/>
<path d="M303.00,222.94L304.56,224.50L303.00,226.06L301.44,224.50Z" fill="#f01515"/>
<path d="M305.43,222.94L306.99,224.50L305.43,226.06L303.87,224.50Z" fill="#f01515"/>
<path d="M307.86,222.94L309.42,224.50L307.86,226.06L306.29,224.50Z" fill="#f01515"/>
<path d="M310.29,222.94L311.85,224.50L310.29,226.06L308.72,224.50Z" fill="#f01515"/>
<path d="M312.71,222.94L314.28,224.50L312.71,226.06L311.15,224.50Z" fill="#f01515"/>
<path d="M315.14,222.94L316.71,224.50L315.14,226.06L313.58,224.50Z" fill="#f01515"/>
<path d="M317.57,222.94L319.13,224.50L317.57,226.06L316.01,224.50Z" fill="#f01515"/>
<path d="M320.00,222.94L321.56,224.50L320.00,226.06L318.44,224.50Z" fill="#f01515"/>
<path d="M323.00,223.24L324.56,224.80L323.00,226.36L321.44,224.80Z" fill="#f01515"/>
<path d="M326.00,223.54L327.56,225.10L326.00,226.66L324.44,225.10Z" fill="#f01515"/>
<path d="M328.50,224.44L330.06,226.00L328.50,227.56L326.94,226.00Z" fill="#f01515"/>
<path d="M331.00,225.33L332.56,226.90L331.00,228.46L329.44,226.90Z" fill="#f01515"/>
<path d="M334.00,227.13L335.56,228.69L334.00,230.26L332.44,228.69Z" fill="#f01515"/>
<path d="M335.80,228.93L337.36,230.49L335.80,232.05L334.24,230.49Z" fill="#f01515"/>
<path d="M337.50,231.92L339.06,233.48L337.50,235.05L335.94,233.48Z" fill="#f01515"/>
<path d="M338.60,234.92L340.16,236.48L338.60,238.04L337.04,236.48Z" fill="#f01515"/>
<path d="M339.70,237.91L341.26,239.47L339.70,241.04L338.14,239.47Z" fill="#f01515"/>
<path d="M340.13,240.51L341.70,242.07L340.13,243.63L338.57,242.07Z" fill="#f01515"/>
<path d="M340.57,243.10L342.13,244.67L340.57,246.23L339.00,244.67Z" fill="#f01515"/>
<path d="M341.00,245.70L342.56,247.26L341.00,248.82L339.44,247.26Z" fill="#f01515"/>
<path d="M341.43,248.10L343.00,249.66L341.43,251.22L339.87,249.66Z" fill="#f01515"/>
<path d="M341.87,250.49L343.43,252.05L341.87,253.62L340.30,252.05Z" fill="#f01515"/>
<path d="M342.30,252.89L343.86,254.45L342.30,256.01L340.74,254.45Z" fill="#f01515"/>
<path d="M342.73,255.13L344.29,256.70L342.73,258.26L341.16,256.70Z" fill="#f01515"/>
<path d="M343.15,257.38L344.71,258.94L343.15,260.50L341.59,258.94Z" fill="#f01515"/>
<path d="M343.57,259.63L345.14,261.19L343.57,262.75L342.01,261.19Z" fill="#f01515"/>
<path d="M344.00,261.87L345.56,263.44L344.00,265.00L342.44,263.44Z" fill="#f01515"/>
<path d="M345.00,264.87L346.56,266.43L345.00,267.99L343.44,266.43Z" fill="#f01515"/>
<path d="M346.00,267.86L347.56,269.42L346.00,270.99L344.44,269.42Z" fill="#f01515"/>
<path d="M347.00,270.26L348.56,271.82L347.00,273.38L345.44,271.82Z" fill="#f01515"/>
<path d="M348.00,272.65L349.56,274.22L348.00,275.78L346.44,274.22Z" fill="#f01515"/>
<path d="M349.50,274.75L351.06,276.31L349.50,277.88L347.94,276.31Z" fill="#f01515"/>
<path d="M351.00,276.85L352.56,278.41L351.00,279.97L349.44,278.41Z" fill="#f01515"/>
<path d="M354.00,279.24L355.56,280.81L354.00,282.37L352.44,280.81Z" fill="#f01515"/>
<path d="M357.00,281.04L358.56,282.60L357.00,284.17L355.44,282.60Z" fill="#f01515"/>
<path d="M359.50,281.76L361.06,283.32L359.50,284.88L357.94,283.32Z" fill="#f01515"/>
<polyline points="303.00,224.50 318.00,224.50 325.00,225.70 333.00,226.90 337.00,228.09 341.00,230.49 343.00,234.68 344.50,239.47 346.30,247.26 348.00,254.45 350.00,262.24 352.00,269.42 354.00,274.22 356.60,278.41 360.00,281.40 364.00,283.20 368.00,284.04" fill="none" stroke="#1aad4a" stroke-width="1.3" stroke-linejoin="round"/>
<circle cx="303.00" cy="224.50" r="1.35" fill="#1aad4a"/>
<circle cx="305.50" cy="224.50" r="1.35" fill="#1aad4a"/>
<circle cx="308.00" cy="224.50" r="1.35" fill="#1aad4a"/>
<circle cx="310.50" cy="224.50" r="1.35" fill="#1aad4a"/>
<circle cx="313.00" cy="224.50" r="1.35" fill="#1aad4a"/>
<circle cx="315.50" cy="224.50" r="1.35" fill="#1aad4a"/>
<circle cx="318.00" cy="224.50" r="1.35" fill="#1aad4a"/>
<circle cx="320.33" cy="224.90" r="1.35" fill="#1aad4a"/>
<circle cx="322.67" cy="225.30" r="1.35" fill="#1aad4a"/>
<circle cx="325.00" cy="225.70" r="1.35" fill="#1aad4a"/>
<circle cx="327.67" cy="226.10" r="1.35" fill="#1aad4a"/>
<circle cx="330.33" cy="226.50" r="1.35" fill="#1aad4a"/>
<circle cx="333.00" cy="226.90" r="1.35" fill="#1aad4a"/>
<circle cx="337.00" cy="228.09" r="1.35" fill="#1aad4a"/>
<circle cx="339.00" cy="229.29" r="1.35" fill="#1aad4a"/>
<circle cx="341.00" cy="230.49" r="1.35" fill="#1aad4a"/>
<circle cx="342.00" cy="232.59" r="1.35" fill="#1aad4a"/>
<circle cx="343.00" cy="234.68" r="1.35" fill="#1aad4a"/>
<circle cx="343.75" cy="237.08" r="1.35" fill="#1aad4a"/>
<circle cx="344.50" cy="239.47" r="1.35" fill="#1aad4a"/>
<circle cx="345.10" cy="242.07" r="1.35" fill="#1aad4a"/>
<circle cx="345.70" cy="244.67" r="1.35" fill="#1aad4a"/>
<circle cx="346.30" cy="247.26" r="1.35" fill="#1aad4a"/>
<circle cx="346.87" cy="249.66" r="1.35" fill="#1aad4a"/>
<circle cx="347.43" cy="252.05" r="1.35" fill="#1aad4a"/>
<circle cx="348.00" cy="254.45" r="1.35" fill="#1aad4a"/>
<circle cx="348.67" cy="257.05" r="1.35" fill="#1aad4a"/>
<circle cx="349.33" cy="259.64" r="1.35" fill="#1aad4a"/>
<circle cx="350.00" cy="262.24" r="1.35" fill="#1aad4a"/>
<circle cx="350.67" cy="264.63" r="1.35" fill="#1aad4a"/>
<circle cx="351.33" cy="267.03" r="1.35" fill="#1aad4a"/>
<circle cx="352.00" cy="269.42" r="1.35" fill="#1aad4a"/>
<circle cx="353.00" cy="271.82" r="1.35" fill="#1aad4a"/>
<circle cx="354.00" cy="274.22" r="1.35" fill="#1aad4a"/>
<circle cx="355.30" cy="276.31" r="1.35" fill="#1aad4a"/>
<circle cx="356.60" cy="278.41" r="1.35" fill="#1aad4a"/>
<circle cx="358.30" cy="279.91" r="1.35" fill="#1aad4a"/>
<circle cx="360.00" cy="281.40" r="1.35" fill="#1aad4a"/>
<circle cx="364.00" cy="283.20" r="1.35" fill="#1aad4a"/>
<line x1="341.60" y1="252.50" x2="358.50" y2="252.50" stroke="#111" stroke-width="0.7"/>
<path d="M344.47,248.80L344.47,251.24M343.42,249.41L345.53,250.63M345.53,249.41L343.42,250.63" stroke="#111" stroke-width="0.77" stroke-linecap="round"/><circle cx="344.47" cy="250.02" r="0.68" fill="#111"/>
<path d="M347.27,248.80L347.27,251.24M346.22,249.41L348.33,250.63M348.33,249.41L346.22,250.63" stroke="#111" stroke-width="0.77" stroke-linecap="round"/><circle cx="347.27" cy="250.02" r="0.68" fill="#111"/>
<path d="M350.07,248.80L350.07,251.24M349.02,249.41L351.13,250.63M351.13,249.41L349.02,250.63" stroke="#111" stroke-width="0.77" stroke-linecap="round"/><circle cx="350.07" cy="250.02" r="0.68" fill="#111"/>
<line x1="349.70" y1="261.30" x2="359.80" y2="261.30" stroke="#111" stroke-width="0.7"/>
<path d="M351.67,257.60L351.67,260.04M350.62,258.21L352.73,259.43M352.73,258.21L350.62,259.43" stroke="#111" stroke-width="0.77" stroke-linecap="round"/><circle cx="351.67" cy="258.82" r="0.68" fill="#111"/>
<path d="M354.47,257.60L354.47,260.04M353.42,258.21L355.53,259.43M355.53,258.21L353.42,259.43" stroke="#111" stroke-width="0.77" stroke-linecap="round"/><circle cx="354.47" cy="258.82" r="0.68" fill="#111"/>
<path d="M357.27,257.60L357.27,260.04M356.22,258.21L358.33,259.43M358.33,258.21L356.22,259.43" stroke="#111" stroke-width="0.77" stroke-linecap="round"/><circle cx="357.27" cy="258.82" r="0.68" fill="#111"/>
<line x1="357.20" y1="266.40" x2="362.20" y2="266.40" stroke="#111" stroke-width="0.6"/>
<text x="358.60" y="265.60" font-family='"Liberation Sans", sans-serif' font-size="3.8" text-anchor="middle" fill="#222" font-weight="normal" stroke="#222" stroke-width="0.14">ns</text>
<rect x="359.00" y="216.30" width="43.20" height="22.10" fill="#fff" stroke="#777" stroke-width="0.6"/>
<line x1="360.30" y1="219.60" x2="367.80" y2="219.60" stroke="#000" stroke-width="1.0"/>
<circle cx="364" cy="219.60" r="1.2" fill="#000"/>
<text x="369.60" y="221.20" font-family='"Liberation Serif", serif' font-size="4.75" text-anchor="start" fill="#1a1a1a" font-weight="normal" stroke="#1a1a1a" stroke-width="0.16">w1118</text>
<line x1="360.30" y1="224.80" x2="367.80" y2="224.80" stroke="#f58a2e" stroke-width="1.0"/>
<circle cx="364" cy="224.80" r="1.2" fill="#f58a2e"/>
<text x="369.60" y="226.40" font-family='"Liberation Serif", serif' font-size="4.75" text-anchor="start" fill="#1a1a1a" font-weight="normal" stroke="#1a1a1a" stroke-width="0.16">w1118 + 2%salt</text>
<line x1="360.30" y1="230.00" x2="367.80" y2="230.00" stroke="#1aad4a" stroke-width="1.0"/>
<circle cx="364" cy="230.00" r="1.2" fill="#1aad4a"/>
<text x="369.60" y="231.60" font-family='"Liberation Serif", serif' font-size="4.75" text-anchor="start" fill="#1a1a1a" font-weight="normal" stroke="#1a1a1a" stroke-width="0.16">w1118 + 4%salt</text>
<line x1="360.30" y1="235.20" x2="367.80" y2="235.20" stroke="#f01515" stroke-width="1.0"/>
<circle cx="364" cy="235.20" r="1.2" fill="#f01515"/>
<text x="369.60" y="236.80" font-family='"Liberation Serif", serif' font-size="4.75" text-anchor="start" fill="#1a1a1a" font-weight="normal" stroke="#1a1a1a" stroke-width="0.16">w1118 + 8%salt</text>
<line x1="444.50" y1="221.20" x2="444.50" y2="284.00" stroke="#333" stroke-width="0.8"/>
<line x1="444.50" y1="284.00" x2="513.60" y2="284.00" stroke="#333" stroke-width="0.7"/>
<line x1="444.50" y1="284.00" x2="444.50" y2="285.40" stroke="#333" stroke-width="0.5"/>
<text x="444.50" y="290.60" font-family='"Liberation Serif", serif' font-size="4.6" text-anchor="middle" fill="#1a1a1a" font-weight="normal" stroke="#1a1a1a" stroke-width="0.16">0</text>
<line x1="461.81" y1="284.00" x2="461.81" y2="285.40" stroke="#333" stroke-width="0.5"/>
<text x="461.81" y="290.60" font-family='"Liberation Serif", serif' font-size="4.6" text-anchor="middle" fill="#1a1a1a" font-weight="normal" stroke="#1a1a1a" stroke-width="0.16">20</text>
<line x1="479.12" y1="284.00" x2="479.12" y2="285.40" stroke="#333" stroke-width="0.5"/>
<text x="479.12" y="290.60" font-family='"Liberation Serif", serif' font-size="4.6" text-anchor="middle" fill="#1a1a1a" font-weight="normal" stroke="#1a1a1a" stroke-width="0.16">40</text>
<line x1="496.43" y1="284.00" x2="496.43" y2="285.40" stroke="#333" stroke-width="0.5"/>
<text x="496.43" y="290.60" font-family='"Liberation Serif", serif' font-size="4.6" text-anchor="middle" fill="#1a1a1a" font-weight="normal" stroke="#1a1a1a" stroke-width="0.16">60</text>
<line x1="513.74" y1="284.00" x2="513.74" y2="285.40" stroke="#333" stroke-width="0.5"/>
<text x="513.74" y="290.60" font-family='"Liberation Serif", serif' font-size="4.6" text-anchor="middle" fill="#1a1a1a" font-weight="normal" stroke="#1a1a1a" stroke-width="0.16">80</text>
<text x="480.60" y="297.60" font-family='"Liberation Serif", serif' font-size="4.8" text-anchor="middle" fill="#1a1a1a" font-weight="normal" stroke="#1a1a1a" stroke-width="0.16">Average lifespan(day)</text>
<rect x="444.50" y="228.75" width="42.32" height="10.00" fill="#ec1c24" stroke="none" stroke-width="0.6"/>
<line x1="486.82" y1="233.75" x2="488.62" y2="233.75" stroke="#333" stroke-width="0.5"/>
<line x1="488.62" y1="232.85" x2="488.62" y2="234.65" stroke="#333" stroke-width="0.5"/>
<text x="442.60" y="234.80" font-family='"Liberation Sans", sans-serif' font-size="5.0" text-anchor="end" fill="#222" font-weight="normal" stroke="#222" stroke-width="0.14">w1118+8%salt</text>
<rect x="444.50" y="242.00" width="45.09" height="9.25" fill="#23b14d" stroke="none" stroke-width="0.6"/>
<line x1="489.59" y1="246.62" x2="491.39" y2="246.62" stroke="#333" stroke-width="0.5"/>
<line x1="491.39" y1="245.72" x2="491.39" y2="247.53" stroke="#333" stroke-width="0.5"/>
<text x="442.60" y="248.10" font-family='"Liberation Sans", sans-serif' font-size="5.0" text-anchor="end" fill="#222" font-weight="normal" stroke="#222" stroke-width="0.14">w1118+4%salt</text>
<rect x="444.50" y="254.50" width="50.03" height="9.25" fill="#f58a2e" stroke="none" stroke-width="0.6"/>
<line x1="494.53" y1="259.12" x2="496.33" y2="259.12" stroke="#333" stroke-width="0.5"/>
<line x1="496.33" y1="258.23" x2="496.33" y2="260.02" stroke="#333" stroke-width="0.5"/>
<text x="442.60" y="261.30" font-family='"Liberation Sans", sans-serif' font-size="5.0" text-anchor="end" fill="#222" font-weight="normal" stroke="#222" stroke-width="0.14">w1118+2%salt</text>
<rect x="444.50" y="267.00" width="56.08" height="10.00" fill="#000" stroke="none" stroke-width="0.6"/>
<line x1="500.58" y1="272.00" x2="502.38" y2="272.00" stroke="#333" stroke-width="0.5"/>
<line x1="502.38" y1="271.10" x2="502.38" y2="272.90" stroke="#333" stroke-width="0.5"/>
<text x="442.60" y="273.80" font-family='"Liberation Sans", sans-serif' font-size="5.0" text-anchor="end" fill="#222" font-weight="normal" stroke="#222" stroke-width="0.14">w1118</text>
</svg>
</body></html>
